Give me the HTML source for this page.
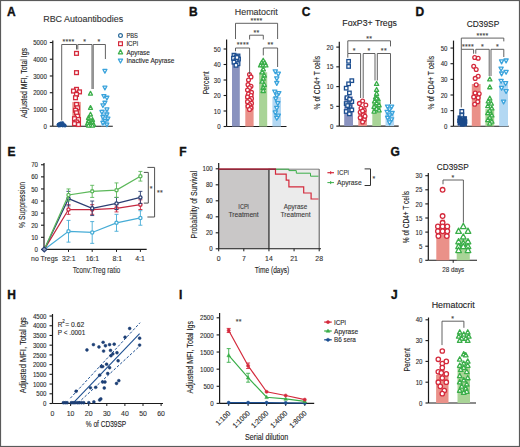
<!DOCTYPE html>
<html><head><meta charset="utf-8"><style>
html,body{margin:0;padding:0;background:#fff;width:520px;height:447px;overflow:hidden}
svg{display:block;font-family:"Liberation Sans",sans-serif}
</style></head><body>
<svg width="520" height="447" viewBox="0 0 520 447">
<rect x="0.5" y="0.5" width="519" height="446" fill="none" stroke="#5a5a5a" stroke-width="1.2"/>
<text x="7" y="15.8" font-size="12" text-anchor="start" font-weight="bold" fill="#111" stroke="#111" stroke-width="0.35">A</text>
<text x="189" y="15.5" font-size="12" text-anchor="start" font-weight="bold" fill="#111" stroke="#111" stroke-width="0.35">B</text>
<text x="301.7" y="15.6" font-size="12" text-anchor="start" font-weight="bold" fill="#111" stroke="#111" stroke-width="0.35">C</text>
<text x="415.5" y="15.5" font-size="12" text-anchor="start" font-weight="bold" fill="#111" stroke="#111" stroke-width="0.35">D</text>
<text x="7.5" y="155.6" font-size="12" text-anchor="start" font-weight="bold" fill="#111" stroke="#111" stroke-width="0.35">E</text>
<text x="179.2" y="155.6" font-size="12" text-anchor="start" font-weight="bold" fill="#111" stroke="#111" stroke-width="0.35">F</text>
<text x="390.5" y="156" font-size="12" text-anchor="start" font-weight="bold" fill="#111" stroke="#111" stroke-width="0.35">G</text>
<text x="7.3" y="299.2" font-size="12" text-anchor="start" font-weight="bold" fill="#111" stroke="#111" stroke-width="0.35">H</text>
<text x="179.0" y="298.8" font-size="12" text-anchor="start" font-weight="bold" fill="#111" stroke="#111" stroke-width="0.35">I</text>
<text x="391" y="298.9" font-size="12" text-anchor="start" font-weight="bold" fill="#111" stroke="#111" stroke-width="0.35">J</text>
<text x="83.2" y="22.1" font-size="8.9" text-anchor="middle" font-weight="normal" fill="#333" stroke="#333" stroke-width="0.12" textLength="80" lengthAdjust="spacingAndGlyphs">RBC Autoantibodies</text>
<line x1="52.80" y1="40.50" x2="52.80" y2="126.20" stroke="#1a1a1a" stroke-width="1.2"/>
<line x1="49.80" y1="126.20" x2="52.80" y2="126.20" stroke="#1a1a1a" stroke-width="1.1"/>
<text x="46.8" y="128.8" font-size="7.4" text-anchor="end" font-weight="normal" fill="#2a2a2a" stroke="#2a2a2a" stroke-width="0.12" textLength="3.4" lengthAdjust="spacingAndGlyphs">0</text>
<line x1="49.80" y1="109.46" x2="52.80" y2="109.46" stroke="#1a1a1a" stroke-width="1.1"/>
<text x="46.8" y="112.06" font-size="7.4" text-anchor="end" font-weight="normal" fill="#2a2a2a" stroke="#2a2a2a" stroke-width="0.12" textLength="13.6" lengthAdjust="spacingAndGlyphs">1000</text>
<line x1="49.80" y1="92.72" x2="52.80" y2="92.72" stroke="#1a1a1a" stroke-width="1.1"/>
<text x="46.8" y="95.32" font-size="7.4" text-anchor="end" font-weight="normal" fill="#2a2a2a" stroke="#2a2a2a" stroke-width="0.12" textLength="13.6" lengthAdjust="spacingAndGlyphs">2000</text>
<line x1="49.80" y1="75.98" x2="52.80" y2="75.98" stroke="#1a1a1a" stroke-width="1.1"/>
<text x="46.8" y="78.58000000000001" font-size="7.4" text-anchor="end" font-weight="normal" fill="#2a2a2a" stroke="#2a2a2a" stroke-width="0.12" textLength="13.6" lengthAdjust="spacingAndGlyphs">3000</text>
<line x1="49.80" y1="59.24" x2="52.80" y2="59.24" stroke="#1a1a1a" stroke-width="1.1"/>
<text x="46.8" y="61.84000000000001" font-size="7.4" text-anchor="end" font-weight="normal" fill="#2a2a2a" stroke="#2a2a2a" stroke-width="0.12" textLength="13.6" lengthAdjust="spacingAndGlyphs">4000</text>
<line x1="49.80" y1="42.50" x2="52.80" y2="42.50" stroke="#1a1a1a" stroke-width="1.1"/>
<text x="46.8" y="45.100000000000016" font-size="7.4" text-anchor="end" font-weight="normal" fill="#2a2a2a" stroke="#2a2a2a" stroke-width="0.12" textLength="13.6" lengthAdjust="spacingAndGlyphs">5000</text>
<text x="26.5" y="83" font-size="8.5" text-anchor="middle" font-weight="normal" fill="#222" stroke="#222" stroke-width="0.12" transform="rotate(-90 26.5 83)" textLength="70" lengthAdjust="spacingAndGlyphs">Adjusted MFI, Total Igs</text>
<line x1="52.80" y1="126.20" x2="112.80" y2="126.20" stroke="#1a1a1a" stroke-width="1.1"/>
<rect x="57.70" y="123.69" width="8.00" height="2.51" fill="#8a93bf"/>
<rect x="72.30" y="101.93" width="8.50" height="24.27" fill="#ea9189"/>
<rect x="86.50" y="119.84" width="7.50" height="6.36" fill="#a9d497"/>
<rect x="101.00" y="109.46" width="7.50" height="16.74" fill="#b3d8f3"/>
<circle cx="60.47" cy="125.41" r="1.4" stroke="#1d4f91" stroke-width="0.8" fill="#1d4f91"/>
<circle cx="62.76" cy="125.65" r="1.4" stroke="#1d4f91" stroke-width="0.8" fill="#1d4f91"/>
<circle cx="61.95" cy="124.76" r="1.4" stroke="#1d4f91" stroke-width="0.8" fill="#1d4f91"/>
<circle cx="58.61" cy="124.34" r="1.4" stroke="#1d4f91" stroke-width="0.8" fill="#1d4f91"/>
<circle cx="58.46" cy="124.56" r="1.4" stroke="#1d4f91" stroke-width="0.8" fill="#1d4f91"/>
<circle cx="58.69" cy="125.59" r="1.4" stroke="#1d4f91" stroke-width="0.8" fill="#1d4f91"/>
<circle cx="61.17" cy="123.37" r="1.4" stroke="#1d4f91" stroke-width="0.8" fill="#1d4f91"/>
<circle cx="59.07" cy="125.19" r="1.4" stroke="#1d4f91" stroke-width="0.8" fill="#1d4f91"/>
<circle cx="62.59" cy="123.01" r="1.4" stroke="#1d4f91" stroke-width="0.8" fill="#1d4f91"/>
<circle cx="62.24" cy="124.67" r="1.4" stroke="#1d4f91" stroke-width="0.8" fill="#1d4f91"/>
<circle cx="65.03" cy="125.72" r="1.4" stroke="#1d4f91" stroke-width="0.8" fill="#1d4f91"/>
<circle cx="64.21" cy="124.99" r="1.4" stroke="#1d4f91" stroke-width="0.8" fill="#1d4f91"/>
<circle cx="59.21" cy="125.51" r="1.4" stroke="#1d4f91" stroke-width="0.8" fill="#1d4f91"/>
<circle cx="60.36" cy="123.41" r="1.4" stroke="#1d4f91" stroke-width="0.8" fill="#1d4f91"/>
<circle cx="59.47" cy="124.11" r="1.4" stroke="#1d4f91" stroke-width="0.8" fill="#1d4f91"/>
<circle cx="62.67" cy="124.74" r="1.4" stroke="#1d4f91" stroke-width="0.8" fill="#1d4f91"/>
<rect x="74.60" y="51.48" width="3.8" height="3.8" stroke="#d42a3c" stroke-width="1.3" fill="#fff"/>
<rect x="74.60" y="70.73" width="3.8" height="3.8" stroke="#d42a3c" stroke-width="1.3" fill="#fff"/>
<rect x="74.60" y="87.47" width="3.8" height="3.8" stroke="#d42a3c" stroke-width="1.3" fill="#fff"/>
<rect x="71.60" y="89.15" width="3.8" height="3.8" stroke="#d42a3c" stroke-width="1.3" fill="#fff"/>
<rect x="77.60" y="89.98" width="3.8" height="3.8" stroke="#d42a3c" stroke-width="1.3" fill="#fff"/>
<rect x="74.60" y="92.49" width="3.8" height="3.8" stroke="#d42a3c" stroke-width="1.3" fill="#fff"/>
<rect x="73.60" y="95.84" width="3.8" height="3.8" stroke="#d42a3c" stroke-width="1.3" fill="#fff"/>
<rect x="74.60" y="102.54" width="3.8" height="3.8" stroke="#d42a3c" stroke-width="1.3" fill="#fff"/>
<rect x="75.60" y="105.89" width="3.8" height="3.8" stroke="#d42a3c" stroke-width="1.3" fill="#fff"/>
<rect x="73.60" y="108.40" width="3.8" height="3.8" stroke="#d42a3c" stroke-width="1.3" fill="#fff"/>
<rect x="74.60" y="110.91" width="3.8" height="3.8" stroke="#d42a3c" stroke-width="1.3" fill="#fff"/>
<rect x="75.60" y="114.26" width="3.8" height="3.8" stroke="#d42a3c" stroke-width="1.3" fill="#fff"/>
<rect x="72.60" y="116.77" width="3.8" height="3.8" stroke="#d42a3c" stroke-width="1.3" fill="#fff"/>
<rect x="76.60" y="117.60" width="3.8" height="3.8" stroke="#d42a3c" stroke-width="1.3" fill="#fff"/>
<rect x="74.60" y="120.11" width="3.8" height="3.8" stroke="#d42a3c" stroke-width="1.3" fill="#fff"/>
<rect x="72.60" y="121.79" width="3.8" height="3.8" stroke="#d42a3c" stroke-width="1.3" fill="#fff"/>
<rect x="76.60" y="122.63" width="3.8" height="3.8" stroke="#d42a3c" stroke-width="1.3" fill="#fff"/>
<polygon points="90.50,91.36 88.50,95.06 92.50,95.06" stroke="#3aae49" stroke-width="1.3" fill="#fff" stroke-linejoin="round"/>
<polygon points="90.50,105.59 88.50,109.29 92.50,109.29" stroke="#3aae49" stroke-width="1.3" fill="#fff" stroke-linejoin="round"/>
<polygon points="90.50,112.28 88.50,115.98 92.50,115.98" stroke="#3aae49" stroke-width="1.3" fill="#fff" stroke-linejoin="round"/>
<polygon points="88.50,115.63 86.50,119.33 90.50,119.33" stroke="#3aae49" stroke-width="1.3" fill="#fff" stroke-linejoin="round"/>
<polygon points="92.50,117.64 90.50,121.34 94.50,121.34" stroke="#3aae49" stroke-width="1.3" fill="#fff" stroke-linejoin="round"/>
<polygon points="88.50,118.98 86.50,122.68 90.50,122.68" stroke="#3aae49" stroke-width="1.3" fill="#fff" stroke-linejoin="round"/>
<polygon points="92.50,120.32 90.50,124.02 94.50,124.02" stroke="#3aae49" stroke-width="1.3" fill="#fff" stroke-linejoin="round"/>
<polygon points="87.50,121.32 85.50,125.02 89.50,125.02" stroke="#3aae49" stroke-width="1.3" fill="#fff" stroke-linejoin="round"/>
<polygon points="93.50,122.33 91.50,126.03 95.50,126.03" stroke="#3aae49" stroke-width="1.3" fill="#fff" stroke-linejoin="round"/>
<polygon points="90.50,123.00 88.50,126.70 92.50,126.70" stroke="#3aae49" stroke-width="1.3" fill="#fff" stroke-linejoin="round"/>
<polygon points="88.50,123.33 86.50,127.03 90.50,127.03" stroke="#3aae49" stroke-width="1.3" fill="#fff" stroke-linejoin="round"/>
<polygon points="92.50,123.50 90.50,127.20 94.50,127.20" stroke="#3aae49" stroke-width="1.3" fill="#fff" stroke-linejoin="round"/>
<polygon points="104.90,73.16 102.90,69.46 106.90,69.46" stroke="#3aa3dc" stroke-width="1.3" fill="#fff" stroke-linejoin="round"/>
<polygon points="104.90,89.90 102.90,86.20 106.90,86.20" stroke="#3aa3dc" stroke-width="1.3" fill="#fff" stroke-linejoin="round"/>
<polygon points="103.90,98.27 101.90,94.57 105.90,94.57" stroke="#3aa3dc" stroke-width="1.3" fill="#fff" stroke-linejoin="round"/>
<polygon points="106.90,99.94 104.90,96.24 108.90,96.24" stroke="#3aa3dc" stroke-width="1.3" fill="#fff" stroke-linejoin="round"/>
<polygon points="104.90,104.96 102.90,101.26 106.90,101.26" stroke="#3aa3dc" stroke-width="1.3" fill="#fff" stroke-linejoin="round"/>
<polygon points="102.90,107.48 100.90,103.78 104.90,103.78" stroke="#3aa3dc" stroke-width="1.3" fill="#fff" stroke-linejoin="round"/>
<polygon points="106.90,111.66 104.90,107.96 108.90,107.96" stroke="#3aa3dc" stroke-width="1.3" fill="#fff" stroke-linejoin="round"/>
<polygon points="101.90,114.17 99.90,110.47 103.90,110.47" stroke="#3aa3dc" stroke-width="1.3" fill="#fff" stroke-linejoin="round"/>
<polygon points="106.90,116.68 104.90,112.98 108.90,112.98" stroke="#3aa3dc" stroke-width="1.3" fill="#fff" stroke-linejoin="round"/>
<polygon points="102.90,119.19 100.90,115.49 104.90,115.49" stroke="#3aa3dc" stroke-width="1.3" fill="#fff" stroke-linejoin="round"/>
<polygon points="107.90,120.87 105.90,117.17 109.90,117.17" stroke="#3aa3dc" stroke-width="1.3" fill="#fff" stroke-linejoin="round"/>
<polygon points="104.90,123.38 102.90,119.68 106.90,119.68" stroke="#3aa3dc" stroke-width="1.3" fill="#fff" stroke-linejoin="round"/>
<polygon points="102.90,125.05 100.90,121.35 104.90,121.35" stroke="#3aa3dc" stroke-width="1.3" fill="#fff" stroke-linejoin="round"/>
<polygon points="106.90,126.73 104.90,123.03 108.90,123.03" stroke="#3aa3dc" stroke-width="1.3" fill="#fff" stroke-linejoin="round"/>
<polyline points="61.70,120.50 61.70,44.50 76.50,44.50 76.50,49.50" stroke="#505050" stroke-width="0.9" fill="none"/>
<polyline points="77.80,49.50 77.80,44.50 92.00,44.50 92.00,89.00" stroke="#505050" stroke-width="0.9" fill="none"/>
<polyline points="93.20,89.00 93.20,44.50 105.40,44.50 105.40,59.00" stroke="#505050" stroke-width="0.9" fill="none"/>
<text x="68.5" y="44.0" font-size="7" text-anchor="middle" font-weight="normal" fill="#444" stroke="#444" stroke-width="0.12" letter-spacing="0.3">****</text>
<text x="84.8" y="44.0" font-size="7" text-anchor="middle" font-weight="normal" fill="#444" stroke="#444" stroke-width="0.12" letter-spacing="0.3">*</text>
<text x="99" y="44.0" font-size="7" text-anchor="middle" font-weight="normal" fill="#444" stroke="#444" stroke-width="0.12" letter-spacing="0.3">*</text>
<circle cx="120.50" cy="35.60" r="1.9" stroke="#2a6a9a" stroke-width="1.2" fill="#fff"/>
<rect x="118.60" y="41.80" width="3.8" height="3.8" stroke="#d42a3c" stroke-width="1.2" fill="#fff"/>
<polygon points="120.50,49.89 118.40,53.78 122.60,53.78" stroke="#3aae49" stroke-width="1.2" fill="#fff" stroke-linejoin="round"/>
<polygon points="120.50,63.01 118.40,59.12 122.60,59.12" stroke="#3aa3dc" stroke-width="1.2" fill="#fff" stroke-linejoin="round"/>
<text x="126.4" y="38.0" font-size="7.0" text-anchor="start" font-weight="normal" fill="#2a2a2a" stroke="#2a2a2a" stroke-width="0.12" textLength="11.5" lengthAdjust="spacingAndGlyphs">PBS</text>
<text x="126.4" y="46.1" font-size="7.0" text-anchor="start" font-weight="normal" fill="#2a2a2a" stroke="#2a2a2a" stroke-width="0.12" textLength="11.7" lengthAdjust="spacingAndGlyphs">ICPi</text>
<text x="126.4" y="54.6" font-size="7.0" text-anchor="start" font-weight="normal" fill="#2a2a2a" stroke="#2a2a2a" stroke-width="0.12" textLength="23.5" lengthAdjust="spacingAndGlyphs">Apyrase</text>
<text x="126.4" y="63.1" font-size="7.0" text-anchor="start" font-weight="normal" fill="#2a2a2a" stroke="#2a2a2a" stroke-width="0.12" textLength="48" lengthAdjust="spacingAndGlyphs">Inactive Apyrase</text>
<text x="256.3" y="14.5" font-size="9" text-anchor="middle" font-weight="normal" fill="#333" stroke="#333" stroke-width="0.12" textLength="43" lengthAdjust="spacingAndGlyphs">Hematocrit</text>
<line x1="226.60" y1="39.50" x2="226.60" y2="126.50" stroke="#1a1a1a" stroke-width="1.2"/>
<line x1="223.60" y1="126.50" x2="226.60" y2="126.50" stroke="#1a1a1a" stroke-width="1.1"/>
<text x="220.6" y="129.1" font-size="7.4" text-anchor="end" font-weight="normal" fill="#2a2a2a" stroke="#2a2a2a" stroke-width="0.12" textLength="3.4" lengthAdjust="spacingAndGlyphs">0</text>
<line x1="223.60" y1="111.00" x2="226.60" y2="111.00" stroke="#1a1a1a" stroke-width="1.1"/>
<text x="220.6" y="113.6" font-size="7.4" text-anchor="end" font-weight="normal" fill="#2a2a2a" stroke="#2a2a2a" stroke-width="0.12" textLength="6.8" lengthAdjust="spacingAndGlyphs">10</text>
<line x1="223.60" y1="95.50" x2="226.60" y2="95.50" stroke="#1a1a1a" stroke-width="1.1"/>
<text x="220.6" y="98.1" font-size="7.4" text-anchor="end" font-weight="normal" fill="#2a2a2a" stroke="#2a2a2a" stroke-width="0.12" textLength="6.8" lengthAdjust="spacingAndGlyphs">20</text>
<line x1="223.60" y1="80.00" x2="226.60" y2="80.00" stroke="#1a1a1a" stroke-width="1.1"/>
<text x="220.6" y="82.6" font-size="7.4" text-anchor="end" font-weight="normal" fill="#2a2a2a" stroke="#2a2a2a" stroke-width="0.12" textLength="6.8" lengthAdjust="spacingAndGlyphs">30</text>
<line x1="223.60" y1="64.50" x2="226.60" y2="64.50" stroke="#1a1a1a" stroke-width="1.1"/>
<text x="220.6" y="67.1" font-size="7.4" text-anchor="end" font-weight="normal" fill="#2a2a2a" stroke="#2a2a2a" stroke-width="0.12" textLength="6.8" lengthAdjust="spacingAndGlyphs">40</text>
<line x1="223.60" y1="49.00" x2="226.60" y2="49.00" stroke="#1a1a1a" stroke-width="1.1"/>
<text x="220.6" y="51.6" font-size="7.4" text-anchor="end" font-weight="normal" fill="#2a2a2a" stroke="#2a2a2a" stroke-width="0.12" textLength="6.8" lengthAdjust="spacingAndGlyphs">50</text>
<text x="208.7" y="82.8" font-size="8.8" text-anchor="middle" font-weight="normal" fill="#222" stroke="#222" stroke-width="0.12" transform="rotate(-90 208.7 82.8)" textLength="23.1" lengthAdjust="spacingAndGlyphs">Percent</text>
<line x1="226.60" y1="126.50" x2="286.50" y2="126.50" stroke="#1a1a1a" stroke-width="1.1"/>
<rect x="232.00" y="59.85" width="7.80" height="66.65" fill="#8a93bf"/>
<rect x="245.30" y="93.95" width="8.30" height="32.55" fill="#ea9189"/>
<rect x="259.10" y="72.25" width="8.10" height="54.25" fill="#a9d497"/>
<rect x="272.40" y="97.05" width="8.60" height="29.45" fill="#b3d8f3"/>
<rect x="232.20" y="53.40" width="3.6" height="3.6" stroke="#1d4f91" stroke-width="1.3" fill="#fff"/>
<rect x="236.20" y="54.17" width="3.6" height="3.6" stroke="#1d4f91" stroke-width="1.3" fill="#fff"/>
<rect x="234.20" y="54.95" width="3.6" height="3.6" stroke="#1d4f91" stroke-width="1.3" fill="#fff"/>
<rect x="231.70" y="56.50" width="3.6" height="3.6" stroke="#1d4f91" stroke-width="1.3" fill="#fff"/>
<rect x="236.70" y="57.28" width="3.6" height="3.6" stroke="#1d4f91" stroke-width="1.3" fill="#fff"/>
<rect x="234.20" y="58.83" width="3.6" height="3.6" stroke="#1d4f91" stroke-width="1.3" fill="#fff"/>
<rect x="232.20" y="60.38" width="3.6" height="3.6" stroke="#1d4f91" stroke-width="1.3" fill="#fff"/>
<rect x="236.20" y="61.93" width="3.6" height="3.6" stroke="#1d4f91" stroke-width="1.3" fill="#fff"/>
<rect x="234.20" y="63.48" width="3.6" height="3.6" stroke="#1d4f91" stroke-width="1.3" fill="#fff"/>
<rect x="235.20" y="55.72" width="3.6" height="3.6" stroke="#1d4f91" stroke-width="1.3" fill="#fff"/>
<circle cx="249.50" cy="74.57" r="1.9" stroke="#d42a3c" stroke-width="1.3" fill="#fff"/>
<circle cx="251.00" cy="76.90" r="1.9" stroke="#d42a3c" stroke-width="1.3" fill="#fff"/>
<circle cx="248.50" cy="80.00" r="1.9" stroke="#d42a3c" stroke-width="1.3" fill="#fff"/>
<circle cx="248.00" cy="84.65" r="1.9" stroke="#d42a3c" stroke-width="1.3" fill="#fff"/>
<circle cx="251.00" cy="86.20" r="1.9" stroke="#d42a3c" stroke-width="1.3" fill="#fff"/>
<circle cx="249.50" cy="87.75" r="1.9" stroke="#d42a3c" stroke-width="1.3" fill="#fff"/>
<circle cx="247.50" cy="90.07" r="1.9" stroke="#d42a3c" stroke-width="1.3" fill="#fff"/>
<circle cx="251.50" cy="92.40" r="1.9" stroke="#d42a3c" stroke-width="1.3" fill="#fff"/>
<circle cx="248.50" cy="93.95" r="1.9" stroke="#d42a3c" stroke-width="1.3" fill="#fff"/>
<circle cx="251.00" cy="95.50" r="1.9" stroke="#d42a3c" stroke-width="1.3" fill="#fff"/>
<circle cx="247.50" cy="97.05" r="1.9" stroke="#d42a3c" stroke-width="1.3" fill="#fff"/>
<circle cx="251.50" cy="98.60" r="1.9" stroke="#d42a3c" stroke-width="1.3" fill="#fff"/>
<circle cx="249.50" cy="100.15" r="1.9" stroke="#d42a3c" stroke-width="1.3" fill="#fff"/>
<circle cx="247.50" cy="101.70" r="1.9" stroke="#d42a3c" stroke-width="1.3" fill="#fff"/>
<circle cx="251.50" cy="103.25" r="1.9" stroke="#d42a3c" stroke-width="1.3" fill="#fff"/>
<circle cx="249.50" cy="104.80" r="1.9" stroke="#d42a3c" stroke-width="1.3" fill="#fff"/>
<circle cx="248.00" cy="106.35" r="1.9" stroke="#d42a3c" stroke-width="1.3" fill="#fff"/>
<circle cx="251.00" cy="107.90" r="1.9" stroke="#d42a3c" stroke-width="1.3" fill="#fff"/>
<circle cx="249.50" cy="109.45" r="1.9" stroke="#d42a3c" stroke-width="1.3" fill="#fff"/>
<polygon points="263.20,58.20 261.00,62.27 265.40,62.27" stroke="#3aae49" stroke-width="1.3" fill="#fff" stroke-linejoin="round"/>
<polygon points="261.70,60.53 259.50,64.60 263.90,64.60" stroke="#3aae49" stroke-width="1.3" fill="#fff" stroke-linejoin="round"/>
<polygon points="264.70,60.53 262.50,64.60 266.90,64.60" stroke="#3aae49" stroke-width="1.3" fill="#fff" stroke-linejoin="round"/>
<polygon points="260.70,62.86 258.50,66.93 262.90,66.93" stroke="#3aae49" stroke-width="1.3" fill="#fff" stroke-linejoin="round"/>
<polygon points="263.20,62.86 261.00,66.93 265.40,66.93" stroke="#3aae49" stroke-width="1.3" fill="#fff" stroke-linejoin="round"/>
<polygon points="265.70,62.86 263.50,66.93 267.90,66.93" stroke="#3aae49" stroke-width="1.3" fill="#fff" stroke-linejoin="round"/>
<polygon points="263.20,66.73 261.00,70.80 265.40,70.80" stroke="#3aae49" stroke-width="1.3" fill="#fff" stroke-linejoin="round"/>
<polygon points="262.20,69.83 260.00,73.90 264.40,73.90" stroke="#3aae49" stroke-width="1.3" fill="#fff" stroke-linejoin="round"/>
<polygon points="264.20,72.93 262.00,77.00 266.40,77.00" stroke="#3aae49" stroke-width="1.3" fill="#fff" stroke-linejoin="round"/>
<polygon points="263.20,76.03 261.00,80.10 265.40,80.10" stroke="#3aae49" stroke-width="1.3" fill="#fff" stroke-linejoin="round"/>
<polygon points="262.20,79.13 260.00,83.20 264.40,83.20" stroke="#3aae49" stroke-width="1.3" fill="#fff" stroke-linejoin="round"/>
<polygon points="264.20,82.23 262.00,86.30 266.40,86.30" stroke="#3aae49" stroke-width="1.3" fill="#fff" stroke-linejoin="round"/>
<polygon points="263.20,85.33 261.00,89.40 265.40,89.40" stroke="#3aae49" stroke-width="1.3" fill="#fff" stroke-linejoin="round"/>
<polygon points="263.20,88.43 261.00,92.50 265.40,92.50" stroke="#3aae49" stroke-width="1.3" fill="#fff" stroke-linejoin="round"/>
<polygon points="275.30,73.78 273.20,69.90 277.40,69.90" stroke="#3aa3dc" stroke-width="1.3" fill="#fff" stroke-linejoin="round"/>
<polygon points="278.30,76.11 276.20,72.22 280.40,72.22" stroke="#3aa3dc" stroke-width="1.3" fill="#fff" stroke-linejoin="round"/>
<polygon points="276.80,80.76 274.70,76.87 278.90,76.87" stroke="#3aa3dc" stroke-width="1.3" fill="#fff" stroke-linejoin="round"/>
<polygon points="276.80,85.41 274.70,81.52 278.90,81.52" stroke="#3aa3dc" stroke-width="1.3" fill="#fff" stroke-linejoin="round"/>
<polygon points="274.80,93.94 272.70,90.05 276.90,90.05" stroke="#3aa3dc" stroke-width="1.3" fill="#fff" stroke-linejoin="round"/>
<polygon points="278.80,95.48 276.70,91.60 280.90,91.60" stroke="#3aa3dc" stroke-width="1.3" fill="#fff" stroke-linejoin="round"/>
<polygon points="276.80,97.81 274.70,93.92 278.90,93.92" stroke="#3aa3dc" stroke-width="1.3" fill="#fff" stroke-linejoin="round"/>
<polygon points="275.80,100.91 273.70,97.02 277.90,97.02" stroke="#3aa3dc" stroke-width="1.3" fill="#fff" stroke-linejoin="round"/>
<polygon points="277.80,105.56 275.70,101.67 279.90,101.67" stroke="#3aa3dc" stroke-width="1.3" fill="#fff" stroke-linejoin="round"/>
<polygon points="276.80,110.21 274.70,106.33 278.90,106.33" stroke="#3aa3dc" stroke-width="1.3" fill="#fff" stroke-linejoin="round"/>
<polygon points="275.30,114.86 273.20,110.97 277.40,110.97" stroke="#3aa3dc" stroke-width="1.3" fill="#fff" stroke-linejoin="round"/>
<polygon points="278.30,117.96 276.20,114.08 280.40,114.08" stroke="#3aa3dc" stroke-width="1.3" fill="#fff" stroke-linejoin="round"/>
<polygon points="276.80,120.28 274.70,116.40 278.90,116.40" stroke="#3aa3dc" stroke-width="1.3" fill="#fff" stroke-linejoin="round"/>
<polyline points="235.50,39.00 235.50,23.30 277.60,23.30 277.60,39.00" stroke="#505050" stroke-width="0.9" fill="none"/>
<polyline points="249.60,39.50 249.60,35.20 263.30,35.20 263.30,39.50" stroke="#505050" stroke-width="0.9" fill="none"/>
<polyline points="235.50,51.30 235.50,48.00 249.60,48.00 249.60,74.00" stroke="#505050" stroke-width="0.9" fill="none"/>
<polyline points="263.30,55.40 263.30,48.00 277.60,48.00 277.60,67.00" stroke="#505050" stroke-width="0.9" fill="none"/>
<text x="256.6" y="22.8" font-size="7" text-anchor="middle" font-weight="normal" fill="#444" stroke="#444" stroke-width="0.12" letter-spacing="0.3">****</text>
<text x="256.6" y="34.8" font-size="7" text-anchor="middle" font-weight="normal" fill="#444" stroke="#444" stroke-width="0.12" letter-spacing="0.3">**</text>
<text x="242.9" y="47.3" font-size="7" text-anchor="middle" font-weight="normal" fill="#444" stroke="#444" stroke-width="0.12" letter-spacing="0.3">****</text>
<text x="270.5" y="47.3" font-size="7" text-anchor="middle" font-weight="normal" fill="#444" stroke="#444" stroke-width="0.12" letter-spacing="0.3">**</text>
<text x="369.6" y="26.2" font-size="9.2" text-anchor="middle" font-weight="normal" fill="#222" stroke="#222" stroke-width="0.12" textLength="54.5" lengthAdjust="spacingAndGlyphs">FoxP3+ Tregs</text>
<line x1="339.30" y1="41.80" x2="339.30" y2="126.10" stroke="#1a1a1a" stroke-width="1.2"/>
<line x1="336.30" y1="126.10" x2="339.30" y2="126.10" stroke="#1a1a1a" stroke-width="1.1"/>
<text x="333.3" y="128.7" font-size="7.4" text-anchor="end" font-weight="normal" fill="#2a2a2a" stroke="#2a2a2a" stroke-width="0.12" textLength="3.4" lengthAdjust="spacingAndGlyphs">0</text>
<line x1="336.30" y1="106.35" x2="339.30" y2="106.35" stroke="#1a1a1a" stroke-width="1.1"/>
<text x="333.3" y="108.94999999999999" font-size="7.4" text-anchor="end" font-weight="normal" fill="#2a2a2a" stroke="#2a2a2a" stroke-width="0.12" textLength="3.4" lengthAdjust="spacingAndGlyphs">5</text>
<line x1="336.30" y1="86.60" x2="339.30" y2="86.60" stroke="#1a1a1a" stroke-width="1.1"/>
<text x="333.3" y="89.19999999999999" font-size="7.4" text-anchor="end" font-weight="normal" fill="#2a2a2a" stroke="#2a2a2a" stroke-width="0.12" textLength="6.8" lengthAdjust="spacingAndGlyphs">10</text>
<line x1="336.30" y1="66.85" x2="339.30" y2="66.85" stroke="#1a1a1a" stroke-width="1.1"/>
<text x="333.3" y="69.44999999999999" font-size="7.4" text-anchor="end" font-weight="normal" fill="#2a2a2a" stroke="#2a2a2a" stroke-width="0.12" textLength="6.8" lengthAdjust="spacingAndGlyphs">15</text>
<line x1="336.30" y1="47.10" x2="339.30" y2="47.10" stroke="#1a1a1a" stroke-width="1.1"/>
<text x="333.3" y="49.699999999999996" font-size="7.4" text-anchor="end" font-weight="normal" fill="#2a2a2a" stroke="#2a2a2a" stroke-width="0.12" textLength="6.8" lengthAdjust="spacingAndGlyphs">20</text>
<text x="320.3" y="82.7" font-size="8.5" text-anchor="middle" font-weight="normal" fill="#222" stroke="#222" stroke-width="0.12" transform="rotate(-90 320.3 82.7)" textLength="53.4" lengthAdjust="spacingAndGlyphs">% of CD4+ T cells</text>
<line x1="339.30" y1="126.10" x2="398.70" y2="126.10" stroke="#1a1a1a" stroke-width="1.1"/>
<rect x="344.20" y="96.47" width="8.80" height="29.62" fill="#8a93bf"/>
<rect x="358.30" y="110.30" width="8.60" height="15.80" fill="#ea9189"/>
<rect x="372.30" y="101.61" width="8.60" height="24.49" fill="#a9d497"/>
<rect x="385.50" y="113.06" width="8.60" height="13.03" fill="#b3d8f3"/>
<rect x="346.85" y="59.57" width="3.5" height="3.5" stroke="#1d4f91" stroke-width="1.3" fill="#fff"/>
<rect x="346.85" y="64.70" width="3.5" height="3.5" stroke="#1d4f91" stroke-width="1.3" fill="#fff"/>
<rect x="350.05" y="78.92" width="3.5" height="3.5" stroke="#1d4f91" stroke-width="1.3" fill="#fff"/>
<rect x="346.85" y="82.08" width="3.5" height="3.5" stroke="#1d4f91" stroke-width="1.3" fill="#fff"/>
<rect x="344.45" y="86.43" width="3.5" height="3.5" stroke="#1d4f91" stroke-width="1.3" fill="#fff"/>
<rect x="347.65" y="91.17" width="3.5" height="3.5" stroke="#1d4f91" stroke-width="1.3" fill="#fff"/>
<rect x="345.25" y="95.91" width="3.5" height="3.5" stroke="#1d4f91" stroke-width="1.3" fill="#fff"/>
<rect x="350.05" y="99.86" width="3.5" height="3.5" stroke="#1d4f91" stroke-width="1.3" fill="#fff"/>
<rect x="344.45" y="101.83" width="3.5" height="3.5" stroke="#1d4f91" stroke-width="1.3" fill="#fff"/>
<rect x="347.65" y="104.99" width="3.5" height="3.5" stroke="#1d4f91" stroke-width="1.3" fill="#fff"/>
<rect x="350.05" y="108.16" width="3.5" height="3.5" stroke="#1d4f91" stroke-width="1.3" fill="#fff"/>
<rect x="344.45" y="109.73" width="3.5" height="3.5" stroke="#1d4f91" stroke-width="1.3" fill="#fff"/>
<rect x="347.65" y="112.10" width="3.5" height="3.5" stroke="#1d4f91" stroke-width="1.3" fill="#fff"/>
<rect x="347.85" y="97.49" width="3.5" height="3.5" stroke="#1d4f91" stroke-width="1.3" fill="#fff"/>
<rect x="345.85" y="103.81" width="3.5" height="3.5" stroke="#1d4f91" stroke-width="1.3" fill="#fff"/>
<circle cx="362.60" cy="101.02" r="1.9" stroke="#d42a3c" stroke-width="1.3" fill="#fff"/>
<circle cx="359.40" cy="103.39" r="1.9" stroke="#d42a3c" stroke-width="1.3" fill="#fff"/>
<circle cx="365.80" cy="105.01" r="1.9" stroke="#d42a3c" stroke-width="1.3" fill="#fff"/>
<circle cx="361.00" cy="108.32" r="1.9" stroke="#d42a3c" stroke-width="1.3" fill="#fff"/>
<circle cx="364.20" cy="109.91" r="1.9" stroke="#d42a3c" stroke-width="1.3" fill="#fff"/>
<circle cx="360.20" cy="112.27" r="1.9" stroke="#d42a3c" stroke-width="1.3" fill="#fff"/>
<circle cx="363.40" cy="114.64" r="1.9" stroke="#d42a3c" stroke-width="1.3" fill="#fff"/>
<circle cx="360.20" cy="117.80" r="1.9" stroke="#d42a3c" stroke-width="1.3" fill="#fff"/>
<circle cx="364.20" cy="119.38" r="1.9" stroke="#d42a3c" stroke-width="1.3" fill="#fff"/>
<circle cx="362.60" cy="121.91" r="1.9" stroke="#d42a3c" stroke-width="1.3" fill="#fff"/>
<circle cx="362.60" cy="111.09" r="1.9" stroke="#d42a3c" stroke-width="1.3" fill="#fff"/>
<circle cx="365.00" cy="116.22" r="1.9" stroke="#d42a3c" stroke-width="1.3" fill="#fff"/>
<polygon points="376.60,81.52 374.50,85.41 378.70,85.41" stroke="#3aae49" stroke-width="1.3" fill="#fff" stroke-linejoin="round"/>
<polygon points="376.60,87.45 374.50,91.33 378.70,91.33" stroke="#3aae49" stroke-width="1.3" fill="#fff" stroke-linejoin="round"/>
<polygon points="376.60,91.40 374.50,95.28 378.70,95.28" stroke="#3aae49" stroke-width="1.3" fill="#fff" stroke-linejoin="round"/>
<polygon points="375.60,94.95 373.50,98.84 377.70,98.84" stroke="#3aae49" stroke-width="1.3" fill="#fff" stroke-linejoin="round"/>
<polygon points="378.10,96.93 376.00,100.81 380.20,100.81" stroke="#3aae49" stroke-width="1.3" fill="#fff" stroke-linejoin="round"/>
<polygon points="374.60,98.90 372.50,102.79 376.70,102.79" stroke="#3aae49" stroke-width="1.3" fill="#fff" stroke-linejoin="round"/>
<polygon points="376.60,100.88 374.50,104.77 378.70,104.77" stroke="#3aae49" stroke-width="1.3" fill="#fff" stroke-linejoin="round"/>
<polygon points="379.10,102.85 377.00,106.74 381.20,106.74" stroke="#3aae49" stroke-width="1.3" fill="#fff" stroke-linejoin="round"/>
<polygon points="374.10,104.43 372.00,108.32 376.20,108.32" stroke="#3aae49" stroke-width="1.3" fill="#fff" stroke-linejoin="round"/>
<polygon points="376.60,106.41 374.50,110.30 378.70,110.30" stroke="#3aae49" stroke-width="1.3" fill="#fff" stroke-linejoin="round"/>
<polygon points="379.10,107.99 377.00,111.88 381.20,111.88" stroke="#3aae49" stroke-width="1.3" fill="#fff" stroke-linejoin="round"/>
<polygon points="374.10,109.17 372.00,113.06 376.20,113.06" stroke="#3aae49" stroke-width="1.3" fill="#fff" stroke-linejoin="round"/>
<polygon points="376.60,96.14 374.50,100.02 378.70,100.02" stroke="#3aae49" stroke-width="1.3" fill="#fff" stroke-linejoin="round"/>
<polygon points="387.60,109.05 385.50,105.17 389.70,105.17" stroke="#3aa3dc" stroke-width="1.3" fill="#fff" stroke-linejoin="round"/>
<polygon points="391.60,109.05 389.50,105.17 393.70,105.17" stroke="#3aa3dc" stroke-width="1.3" fill="#fff" stroke-linejoin="round"/>
<polygon points="389.60,111.82 387.50,107.93 391.70,107.93" stroke="#3aa3dc" stroke-width="1.3" fill="#fff" stroke-linejoin="round"/>
<polygon points="387.10,114.19 385.00,110.30 389.20,110.30" stroke="#3aa3dc" stroke-width="1.3" fill="#fff" stroke-linejoin="round"/>
<polygon points="392.10,115.38 390.00,111.49 394.20,111.49" stroke="#3aa3dc" stroke-width="1.3" fill="#fff" stroke-linejoin="round"/>
<polygon points="389.60,117.74 387.50,113.86 391.70,113.86" stroke="#3aa3dc" stroke-width="1.3" fill="#fff" stroke-linejoin="round"/>
<polygon points="387.60,120.11 385.50,116.23 389.70,116.23" stroke="#3aa3dc" stroke-width="1.3" fill="#fff" stroke-linejoin="round"/>
<polygon points="391.60,121.69 389.50,117.81 393.70,117.81" stroke="#3aa3dc" stroke-width="1.3" fill="#fff" stroke-linejoin="round"/>
<polygon points="389.60,124.85 387.50,120.97 391.70,120.97" stroke="#3aa3dc" stroke-width="1.3" fill="#fff" stroke-linejoin="round"/>
<polyline points="347.80,53.40 347.80,40.80 390.50,40.80 390.50,46.40" stroke="#505050" stroke-width="0.9" fill="none"/>
<polyline points="347.80,57.70 347.80,53.50 360.60,53.50 360.60,98.00" stroke="#505050" stroke-width="0.9" fill="none"/>
<polyline points="363.20,98.00 363.20,53.50 375.00,53.50 375.00,80.50" stroke="#505050" stroke-width="0.9" fill="none"/>
<polyline points="377.30,80.50 377.30,53.50 390.50,53.50 390.50,104.00" stroke="#505050" stroke-width="0.9" fill="none"/>
<text x="369.2" y="40.5" font-size="7" text-anchor="middle" font-weight="normal" fill="#444" stroke="#444" stroke-width="0.12" letter-spacing="0.3">**</text>
<text x="354.2" y="53.2" font-size="7" text-anchor="middle" font-weight="normal" fill="#444" stroke="#444" stroke-width="0.12" letter-spacing="0.3">*</text>
<text x="369.1" y="53.2" font-size="7" text-anchor="middle" font-weight="normal" fill="#444" stroke="#444" stroke-width="0.12" letter-spacing="0.3">*</text>
<text x="383.9" y="53.2" font-size="7" text-anchor="middle" font-weight="normal" fill="#444" stroke="#444" stroke-width="0.12" letter-spacing="0.3">**</text>
<text x="483" y="27.1" font-size="9.8" text-anchor="middle" font-weight="normal" fill="#222" stroke="#222" stroke-width="0.12" textLength="32.5" lengthAdjust="spacingAndGlyphs">CD39SP</text>
<line x1="453.50" y1="40.60" x2="453.50" y2="126.30" stroke="#1a1a1a" stroke-width="1.2"/>
<line x1="450.50" y1="126.30" x2="453.50" y2="126.30" stroke="#1a1a1a" stroke-width="1.1"/>
<text x="447.5" y="128.9" font-size="7.4" text-anchor="end" font-weight="normal" fill="#2a2a2a" stroke="#2a2a2a" stroke-width="0.12" textLength="3.4" lengthAdjust="spacingAndGlyphs">0</text>
<line x1="450.50" y1="110.65" x2="453.50" y2="110.65" stroke="#1a1a1a" stroke-width="1.1"/>
<text x="447.5" y="113.25" font-size="7.4" text-anchor="end" font-weight="normal" fill="#2a2a2a" stroke="#2a2a2a" stroke-width="0.12" textLength="6.8" lengthAdjust="spacingAndGlyphs">10</text>
<line x1="450.50" y1="95.00" x2="453.50" y2="95.00" stroke="#1a1a1a" stroke-width="1.1"/>
<text x="447.5" y="97.6" font-size="7.4" text-anchor="end" font-weight="normal" fill="#2a2a2a" stroke="#2a2a2a" stroke-width="0.12" textLength="6.8" lengthAdjust="spacingAndGlyphs">20</text>
<line x1="450.50" y1="79.35" x2="453.50" y2="79.35" stroke="#1a1a1a" stroke-width="1.1"/>
<text x="447.5" y="81.94999999999999" font-size="7.4" text-anchor="end" font-weight="normal" fill="#2a2a2a" stroke="#2a2a2a" stroke-width="0.12" textLength="6.8" lengthAdjust="spacingAndGlyphs">30</text>
<line x1="450.50" y1="63.70" x2="453.50" y2="63.70" stroke="#1a1a1a" stroke-width="1.1"/>
<text x="447.5" y="66.3" font-size="7.4" text-anchor="end" font-weight="normal" fill="#2a2a2a" stroke="#2a2a2a" stroke-width="0.12" textLength="6.8" lengthAdjust="spacingAndGlyphs">40</text>
<line x1="450.50" y1="48.05" x2="453.50" y2="48.05" stroke="#1a1a1a" stroke-width="1.1"/>
<text x="447.5" y="50.65" font-size="7.4" text-anchor="end" font-weight="normal" fill="#2a2a2a" stroke="#2a2a2a" stroke-width="0.12" textLength="6.8" lengthAdjust="spacingAndGlyphs">50</text>
<text x="434.0" y="82.7" font-size="8.5" text-anchor="middle" font-weight="normal" fill="#222" stroke="#222" stroke-width="0.12" transform="rotate(-90 434.0 82.7)" textLength="53.4" lengthAdjust="spacingAndGlyphs">% of CD4+ T cells</text>
<line x1="453.50" y1="126.30" x2="508.70" y2="126.30" stroke="#1a1a1a" stroke-width="1.1"/>
<rect x="458.00" y="120.04" width="8.80" height="6.26" fill="#8a93bf"/>
<rect x="471.80" y="84.05" width="8.80" height="42.25" fill="#ea9189"/>
<rect x="485.40" y="109.08" width="8.80" height="17.22" fill="#a9d497"/>
<rect x="499.20" y="82.48" width="8.80" height="43.82" fill="#b3d8f3"/>
<rect x="458.00" y="115.89" width="3.6" height="3.6" stroke="#1b4a8a" stroke-width="0.9" fill="#1b4a8a"/>
<rect x="463.00" y="116.67" width="3.6" height="3.6" stroke="#1b4a8a" stroke-width="0.9" fill="#1b4a8a"/>
<rect x="460.50" y="117.93" width="3.6" height="3.6" stroke="#1b4a8a" stroke-width="0.9" fill="#1b4a8a"/>
<rect x="457.70" y="119.02" width="3.6" height="3.6" stroke="#1b4a8a" stroke-width="0.9" fill="#1b4a8a"/>
<rect x="463.30" y="119.80" width="3.6" height="3.6" stroke="#1b4a8a" stroke-width="0.9" fill="#1b4a8a"/>
<rect x="460.50" y="120.59" width="3.6" height="3.6" stroke="#1b4a8a" stroke-width="0.9" fill="#1b4a8a"/>
<rect x="458.00" y="121.37" width="3.6" height="3.6" stroke="#1b4a8a" stroke-width="0.9" fill="#1b4a8a"/>
<rect x="463.00" y="122.15" width="3.6" height="3.6" stroke="#1b4a8a" stroke-width="0.9" fill="#1b4a8a"/>
<rect x="460.50" y="122.62" width="3.6" height="3.6" stroke="#1b4a8a" stroke-width="0.9" fill="#1b4a8a"/>
<rect x="460.00" y="109.63" width="3.6" height="3.6" stroke="#1b4a8a" stroke-width="1.3" fill="#fff"/>
<rect x="460.00" y="113.23" width="3.6" height="3.6" stroke="#1b4a8a" stroke-width="1.3" fill="#cfe0f0"/>
<circle cx="474.70" cy="57.44" r="1.9" stroke="#d42a3c" stroke-width="1.3" fill="#fff"/>
<circle cx="478.20" cy="58.22" r="1.9" stroke="#d42a3c" stroke-width="1.3" fill="#fff"/>
<circle cx="473.70" cy="66.36" r="1.9" stroke="#d42a3c" stroke-width="1.3" fill="#fff"/>
<circle cx="476.20" cy="69.49" r="1.9" stroke="#d42a3c" stroke-width="1.3" fill="#fff"/>
<circle cx="478.20" cy="76.22" r="1.9" stroke="#d42a3c" stroke-width="1.3" fill="#fff"/>
<circle cx="475.20" cy="78.41" r="1.9" stroke="#d42a3c" stroke-width="1.3" fill="#fff"/>
<circle cx="476.20" cy="84.83" r="1.9" stroke="#d42a3c" stroke-width="1.3" fill="#fff"/>
<circle cx="475.20" cy="92.97" r="1.9" stroke="#d42a3c" stroke-width="1.3" fill="#fff"/>
<circle cx="479.20" cy="93.75" r="1.9" stroke="#d42a3c" stroke-width="1.3" fill="#fff"/>
<circle cx="473.70" cy="97.03" r="1.9" stroke="#d42a3c" stroke-width="1.3" fill="#fff"/>
<circle cx="478.20" cy="97.66" r="1.9" stroke="#d42a3c" stroke-width="1.3" fill="#fff"/>
<circle cx="477.70" cy="101.73" r="1.9" stroke="#d42a3c" stroke-width="1.3" fill="#fff"/>
<circle cx="474.70" cy="104.23" r="1.9" stroke="#d42a3c" stroke-width="1.3" fill="#fff"/>
<polygon points="489.80,77.04 487.70,80.92 491.90,80.92" stroke="#3aae49" stroke-width="1.3" fill="#fff" stroke-linejoin="round"/>
<polygon points="489.80,84.86 487.70,88.75 491.90,88.75" stroke="#3aae49" stroke-width="1.3" fill="#fff" stroke-linejoin="round"/>
<polygon points="489.80,96.13 487.70,100.02 491.90,100.02" stroke="#3aae49" stroke-width="1.3" fill="#fff" stroke-linejoin="round"/>
<polygon points="488.30,98.95 486.20,102.83 490.40,102.83" stroke="#3aae49" stroke-width="1.3" fill="#fff" stroke-linejoin="round"/>
<polygon points="491.30,101.30 489.20,105.18 493.40,105.18" stroke="#3aae49" stroke-width="1.3" fill="#fff" stroke-linejoin="round"/>
<polygon points="487.80,103.64 485.70,107.53 489.90,107.53" stroke="#3aae49" stroke-width="1.3" fill="#fff" stroke-linejoin="round"/>
<polygon points="491.80,105.99 489.70,109.88 493.90,109.88" stroke="#3aae49" stroke-width="1.3" fill="#fff" stroke-linejoin="round"/>
<polygon points="489.80,108.34 487.70,112.23 491.90,112.23" stroke="#3aae49" stroke-width="1.3" fill="#fff" stroke-linejoin="round"/>
<polygon points="487.80,110.69 485.70,114.57 489.90,114.57" stroke="#3aae49" stroke-width="1.3" fill="#fff" stroke-linejoin="round"/>
<polygon points="491.80,113.03 489.70,116.92 493.90,116.92" stroke="#3aae49" stroke-width="1.3" fill="#fff" stroke-linejoin="round"/>
<polygon points="489.80,115.38 487.70,119.27 491.90,119.27" stroke="#3aae49" stroke-width="1.3" fill="#fff" stroke-linejoin="round"/>
<polygon points="487.80,117.73 485.70,121.61 489.90,121.61" stroke="#3aae49" stroke-width="1.3" fill="#fff" stroke-linejoin="round"/>
<polygon points="491.80,119.29 489.70,123.18 493.90,123.18" stroke="#3aae49" stroke-width="1.3" fill="#fff" stroke-linejoin="round"/>
<polygon points="489.80,121.17 487.70,125.06 491.90,125.06" stroke="#3aae49" stroke-width="1.3" fill="#fff" stroke-linejoin="round"/>
<polygon points="506.10,62.88 504.00,58.99 508.20,58.99" stroke="#3aa3dc" stroke-width="1.3" fill="#fff" stroke-linejoin="round"/>
<polygon points="501.60,63.82 499.50,59.93 503.70,59.93" stroke="#3aa3dc" stroke-width="1.3" fill="#fff" stroke-linejoin="round"/>
<polygon points="501.10,71.02 499.00,67.13 503.20,67.13" stroke="#3aa3dc" stroke-width="1.3" fill="#fff" stroke-linejoin="round"/>
<polygon points="506.10,74.30 504.00,70.42 508.20,70.42" stroke="#3aa3dc" stroke-width="1.3" fill="#fff" stroke-linejoin="round"/>
<polygon points="501.60,75.87 499.50,71.98 503.70,71.98" stroke="#3aa3dc" stroke-width="1.3" fill="#fff" stroke-linejoin="round"/>
<polygon points="501.10,83.22 499.00,79.34 503.20,79.34" stroke="#3aa3dc" stroke-width="1.3" fill="#fff" stroke-linejoin="round"/>
<polygon points="505.60,85.57 503.50,81.69 507.70,81.69" stroke="#3aa3dc" stroke-width="1.3" fill="#fff" stroke-linejoin="round"/>
<polygon points="501.60,90.27 499.50,86.38 503.70,86.38" stroke="#3aa3dc" stroke-width="1.3" fill="#fff" stroke-linejoin="round"/>
<polygon points="506.10,93.55 504.00,89.67 508.20,89.67" stroke="#3aa3dc" stroke-width="1.3" fill="#fff" stroke-linejoin="round"/>
<polygon points="503.60,104.04 501.50,100.15 505.70,100.15" stroke="#3aa3dc" stroke-width="1.3" fill="#fff" stroke-linejoin="round"/>
<polyline points="461.30,49.30 461.30,38.10 503.80,38.10 503.80,41.40" stroke="#505050" stroke-width="0.9" fill="none"/>
<polyline points="461.30,107.40 461.30,49.30 473.60,49.30 473.60,53.70" stroke="#505050" stroke-width="0.9" fill="none"/>
<polyline points="475.80,53.70 475.80,49.30 489.20,49.30 489.20,76.00" stroke="#505050" stroke-width="0.9" fill="none"/>
<polyline points="491.00,76.00 491.00,49.30 503.80,49.30 503.80,57.00" stroke="#505050" stroke-width="0.9" fill="none"/>
<text x="482.5" y="37.6" font-size="7" text-anchor="middle" font-weight="normal" fill="#444" stroke="#444" stroke-width="0.12" letter-spacing="0.3">****</text>
<text x="468" y="49.0" font-size="7" text-anchor="middle" font-weight="normal" fill="#444" stroke="#444" stroke-width="0.12" letter-spacing="0.3">****</text>
<text x="482.5" y="49.0" font-size="7" text-anchor="middle" font-weight="normal" fill="#444" stroke="#444" stroke-width="0.12" letter-spacing="0.3">*</text>
<text x="497.4" y="49.0" font-size="7" text-anchor="middle" font-weight="normal" fill="#444" stroke="#444" stroke-width="0.12" letter-spacing="0.3">*</text>
<line x1="44.00" y1="163.00" x2="44.00" y2="249.40" stroke="#1a1a1a" stroke-width="1.2"/>
<line x1="41.00" y1="249.40" x2="44.00" y2="249.40" stroke="#1a1a1a" stroke-width="1.1"/>
<text x="38.0" y="252.0" font-size="7.4" text-anchor="end" font-weight="normal" fill="#2a2a2a" stroke="#2a2a2a" stroke-width="0.12" textLength="3.4" lengthAdjust="spacingAndGlyphs">0</text>
<line x1="41.00" y1="237.31" x2="44.00" y2="237.31" stroke="#1a1a1a" stroke-width="1.1"/>
<text x="38.0" y="239.91" font-size="7.4" text-anchor="end" font-weight="normal" fill="#2a2a2a" stroke="#2a2a2a" stroke-width="0.12" textLength="6.8" lengthAdjust="spacingAndGlyphs">10</text>
<line x1="41.00" y1="225.22" x2="44.00" y2="225.22" stroke="#1a1a1a" stroke-width="1.1"/>
<text x="38.0" y="227.82" font-size="7.4" text-anchor="end" font-weight="normal" fill="#2a2a2a" stroke="#2a2a2a" stroke-width="0.12" textLength="6.8" lengthAdjust="spacingAndGlyphs">20</text>
<line x1="41.00" y1="213.13" x2="44.00" y2="213.13" stroke="#1a1a1a" stroke-width="1.1"/>
<text x="38.0" y="215.73" font-size="7.4" text-anchor="end" font-weight="normal" fill="#2a2a2a" stroke="#2a2a2a" stroke-width="0.12" textLength="6.8" lengthAdjust="spacingAndGlyphs">30</text>
<line x1="41.00" y1="201.04" x2="44.00" y2="201.04" stroke="#1a1a1a" stroke-width="1.1"/>
<text x="38.0" y="203.64000000000001" font-size="7.4" text-anchor="end" font-weight="normal" fill="#2a2a2a" stroke="#2a2a2a" stroke-width="0.12" textLength="6.8" lengthAdjust="spacingAndGlyphs">40</text>
<line x1="41.00" y1="188.95" x2="44.00" y2="188.95" stroke="#1a1a1a" stroke-width="1.1"/>
<text x="38.0" y="191.54999999999998" font-size="7.4" text-anchor="end" font-weight="normal" fill="#2a2a2a" stroke="#2a2a2a" stroke-width="0.12" textLength="6.8" lengthAdjust="spacingAndGlyphs">50</text>
<line x1="41.00" y1="176.86" x2="44.00" y2="176.86" stroke="#1a1a1a" stroke-width="1.1"/>
<text x="38.0" y="179.46" font-size="7.4" text-anchor="end" font-weight="normal" fill="#2a2a2a" stroke="#2a2a2a" stroke-width="0.12" textLength="6.8" lengthAdjust="spacingAndGlyphs">60</text>
<line x1="41.00" y1="164.77" x2="44.00" y2="164.77" stroke="#1a1a1a" stroke-width="1.1"/>
<text x="38.0" y="167.36999999999998" font-size="7.4" text-anchor="end" font-weight="normal" fill="#2a2a2a" stroke="#2a2a2a" stroke-width="0.12" textLength="6.8" lengthAdjust="spacingAndGlyphs">70</text>
<text x="25.0" y="205.0" font-size="9.0" text-anchor="middle" font-weight="normal" fill="#222" stroke="#222" stroke-width="0.12" transform="rotate(-90 25.0 205.0)" textLength="46" lengthAdjust="spacingAndGlyphs">% Suppression</text>
<line x1="44.00" y1="249.40" x2="146.70" y2="249.40" stroke="#1a1a1a" stroke-width="1.1"/>
<line x1="68.50" y1="249.40" x2="68.50" y2="251.90" stroke="#1a1a1a" stroke-width="1"/>
<line x1="92.20" y1="249.40" x2="92.20" y2="251.90" stroke="#1a1a1a" stroke-width="1"/>
<line x1="116.50" y1="249.40" x2="116.50" y2="251.90" stroke="#1a1a1a" stroke-width="1"/>
<line x1="140.40" y1="249.40" x2="140.40" y2="251.90" stroke="#1a1a1a" stroke-width="1"/>
<text x="44.5" y="260.8" font-size="6.9" text-anchor="middle" font-weight="normal" fill="#333" stroke="#333" stroke-width="0.12">no Tregs</text>
<text x="68.8" y="260.8" font-size="6.9" text-anchor="middle" font-weight="normal" fill="#333" stroke="#333" stroke-width="0.12">32:1</text>
<text x="92.4" y="260.8" font-size="6.9" text-anchor="middle" font-weight="normal" fill="#333" stroke="#333" stroke-width="0.12">16:1</text>
<text x="117.2" y="260.8" font-size="6.9" text-anchor="middle" font-weight="normal" fill="#333" stroke="#333" stroke-width="0.12">8:1</text>
<text x="140" y="260.8" font-size="6.9" text-anchor="middle" font-weight="normal" fill="#333" stroke="#333" stroke-width="0.12">4:1</text>
<text x="96.5" y="273.2" font-size="8.5" text-anchor="middle" font-weight="normal" fill="#333" stroke="#333" stroke-width="0.12" textLength="47.7" lengthAdjust="spacingAndGlyphs">Tconv:Treg ratio</text>
<polyline points="44.30,249.40 68.50,231.27 92.20,232.47 116.50,222.80 140.40,217.97" stroke="#46acd6" stroke-width="1.25" fill="none"/>
<line x1="68.50" y1="242.15" x2="68.50" y2="220.38" stroke="#46acd6" stroke-width="0.9"/>
<line x1="66.50" y1="242.15" x2="70.50" y2="242.15" stroke="#46acd6" stroke-width="0.9"/>
<line x1="66.50" y1="220.38" x2="70.50" y2="220.38" stroke="#46acd6" stroke-width="0.9"/>
<line x1="92.20" y1="243.36" x2="92.20" y2="221.59" stroke="#46acd6" stroke-width="0.9"/>
<line x1="90.20" y1="243.36" x2="94.20" y2="243.36" stroke="#46acd6" stroke-width="0.9"/>
<line x1="90.20" y1="221.59" x2="94.20" y2="221.59" stroke="#46acd6" stroke-width="0.9"/>
<line x1="116.50" y1="231.27" x2="116.50" y2="214.34" stroke="#46acd6" stroke-width="0.9"/>
<line x1="114.50" y1="231.27" x2="118.50" y2="231.27" stroke="#46acd6" stroke-width="0.9"/>
<line x1="114.50" y1="214.34" x2="118.50" y2="214.34" stroke="#46acd6" stroke-width="0.9"/>
<line x1="140.40" y1="225.22" x2="140.40" y2="210.71" stroke="#46acd6" stroke-width="0.9"/>
<line x1="138.40" y1="225.22" x2="142.40" y2="225.22" stroke="#46acd6" stroke-width="0.9"/>
<line x1="138.40" y1="210.71" x2="142.40" y2="210.71" stroke="#46acd6" stroke-width="0.9"/>
<circle cx="68.50" cy="231.27" r="1.6" stroke="#46acd6" stroke-width="1.3" fill="#fff"/>
<circle cx="92.20" cy="232.47" r="1.6" stroke="#46acd6" stroke-width="1.3" fill="#fff"/>
<circle cx="116.50" cy="222.80" r="1.6" stroke="#46acd6" stroke-width="1.3" fill="#fff"/>
<circle cx="140.40" cy="217.97" r="1.6" stroke="#46acd6" stroke-width="1.3" fill="#fff"/>
<polyline points="44.30,249.40 68.50,209.50 92.20,209.50 116.50,208.29 140.40,204.67" stroke="#c42840" stroke-width="1.25" fill="none"/>
<line x1="68.50" y1="214.34" x2="68.50" y2="204.67" stroke="#c42840" stroke-width="0.9"/>
<line x1="66.50" y1="214.34" x2="70.50" y2="214.34" stroke="#c42840" stroke-width="0.9"/>
<line x1="66.50" y1="204.67" x2="70.50" y2="204.67" stroke="#c42840" stroke-width="0.9"/>
<line x1="92.20" y1="214.34" x2="92.20" y2="204.67" stroke="#c42840" stroke-width="0.9"/>
<line x1="90.20" y1="214.34" x2="94.20" y2="214.34" stroke="#c42840" stroke-width="0.9"/>
<line x1="90.20" y1="204.67" x2="94.20" y2="204.67" stroke="#c42840" stroke-width="0.9"/>
<line x1="116.50" y1="211.92" x2="116.50" y2="204.67" stroke="#c42840" stroke-width="0.9"/>
<line x1="114.50" y1="211.92" x2="118.50" y2="211.92" stroke="#c42840" stroke-width="0.9"/>
<line x1="114.50" y1="204.67" x2="118.50" y2="204.67" stroke="#c42840" stroke-width="0.9"/>
<line x1="140.40" y1="209.50" x2="140.40" y2="199.83" stroke="#c42840" stroke-width="0.9"/>
<line x1="138.40" y1="209.50" x2="142.40" y2="209.50" stroke="#c42840" stroke-width="0.9"/>
<line x1="138.40" y1="199.83" x2="142.40" y2="199.83" stroke="#c42840" stroke-width="0.9"/>
<circle cx="68.50" cy="209.50" r="1.6" stroke="#c42840" stroke-width="1.3" fill="#fff"/>
<circle cx="92.20" cy="209.50" r="1.6" stroke="#c42840" stroke-width="1.3" fill="#fff"/>
<circle cx="116.50" cy="208.29" r="1.6" stroke="#c42840" stroke-width="1.3" fill="#fff"/>
<circle cx="140.40" cy="204.67" r="1.6" stroke="#c42840" stroke-width="1.3" fill="#fff"/>
<polyline points="44.30,249.40 68.50,198.62 92.20,208.29 116.50,203.46 140.40,197.41" stroke="#2b3f73" stroke-width="1.25" fill="none"/>
<line x1="68.50" y1="205.88" x2="68.50" y2="191.37" stroke="#2b3f73" stroke-width="0.9"/>
<line x1="66.50" y1="205.88" x2="70.50" y2="205.88" stroke="#2b3f73" stroke-width="0.9"/>
<line x1="66.50" y1="191.37" x2="70.50" y2="191.37" stroke="#2b3f73" stroke-width="0.9"/>
<line x1="92.20" y1="215.55" x2="92.20" y2="201.04" stroke="#2b3f73" stroke-width="0.9"/>
<line x1="90.20" y1="215.55" x2="94.20" y2="215.55" stroke="#2b3f73" stroke-width="0.9"/>
<line x1="90.20" y1="201.04" x2="94.20" y2="201.04" stroke="#2b3f73" stroke-width="0.9"/>
<line x1="116.50" y1="209.50" x2="116.50" y2="197.41" stroke="#2b3f73" stroke-width="0.9"/>
<line x1="114.50" y1="209.50" x2="118.50" y2="209.50" stroke="#2b3f73" stroke-width="0.9"/>
<line x1="114.50" y1="197.41" x2="118.50" y2="197.41" stroke="#2b3f73" stroke-width="0.9"/>
<line x1="140.40" y1="203.46" x2="140.40" y2="191.37" stroke="#2b3f73" stroke-width="0.9"/>
<line x1="138.40" y1="203.46" x2="142.40" y2="203.46" stroke="#2b3f73" stroke-width="0.9"/>
<line x1="138.40" y1="191.37" x2="142.40" y2="191.37" stroke="#2b3f73" stroke-width="0.9"/>
<circle cx="68.50" cy="198.62" r="1.6" stroke="#2b3f73" stroke-width="1.3" fill="#fff"/>
<circle cx="92.20" cy="208.29" r="1.6" stroke="#2b3f73" stroke-width="1.3" fill="#fff"/>
<circle cx="116.50" cy="203.46" r="1.6" stroke="#2b3f73" stroke-width="1.3" fill="#fff"/>
<circle cx="140.40" cy="197.41" r="1.6" stroke="#2b3f73" stroke-width="1.3" fill="#fff"/>
<polyline points="44.30,249.40 68.50,195.00 92.20,191.37 116.50,190.16 140.40,176.26" stroke="#5cb85a" stroke-width="1.25" fill="none"/>
<line x1="68.50" y1="201.04" x2="68.50" y2="188.95" stroke="#5cb85a" stroke-width="0.9"/>
<line x1="66.50" y1="201.04" x2="70.50" y2="201.04" stroke="#5cb85a" stroke-width="0.9"/>
<line x1="66.50" y1="188.95" x2="70.50" y2="188.95" stroke="#5cb85a" stroke-width="0.9"/>
<line x1="92.20" y1="197.41" x2="92.20" y2="185.32" stroke="#5cb85a" stroke-width="0.9"/>
<line x1="90.20" y1="197.41" x2="94.20" y2="197.41" stroke="#5cb85a" stroke-width="0.9"/>
<line x1="90.20" y1="185.32" x2="94.20" y2="185.32" stroke="#5cb85a" stroke-width="0.9"/>
<line x1="116.50" y1="197.41" x2="116.50" y2="182.91" stroke="#5cb85a" stroke-width="0.9"/>
<line x1="114.50" y1="197.41" x2="118.50" y2="197.41" stroke="#5cb85a" stroke-width="0.9"/>
<line x1="114.50" y1="182.91" x2="118.50" y2="182.91" stroke="#5cb85a" stroke-width="0.9"/>
<line x1="140.40" y1="181.09" x2="140.40" y2="171.42" stroke="#5cb85a" stroke-width="0.9"/>
<line x1="138.40" y1="181.09" x2="142.40" y2="181.09" stroke="#5cb85a" stroke-width="0.9"/>
<line x1="138.40" y1="171.42" x2="142.40" y2="171.42" stroke="#5cb85a" stroke-width="0.9"/>
<circle cx="68.50" cy="195.00" r="1.6" stroke="#5cb85a" stroke-width="1.3" fill="#fff"/>
<circle cx="92.20" cy="191.37" r="1.6" stroke="#5cb85a" stroke-width="1.3" fill="#fff"/>
<circle cx="116.50" cy="190.16" r="1.6" stroke="#5cb85a" stroke-width="1.3" fill="#fff"/>
<circle cx="140.40" cy="176.26" r="1.6" stroke="#5cb85a" stroke-width="1.3" fill="#fff"/>
<polygon points="44.3,246.8 46.9,249.4 44.3,252.0 41.7,249.4" fill="#8a9ab8" stroke="#2b3f73" stroke-width="1.1"/>
<polyline points="143.80,172.40 148.30,172.40 148.30,203.10 143.80,203.10" stroke="#505050" stroke-width="1" fill="none"/>
<polyline points="147.40,167.40 154.60,167.40 154.60,217.00 147.40,217.00" stroke="#505050" stroke-width="1" fill="none"/>
<text x="151.3" y="190.5" font-size="7" text-anchor="middle" font-weight="normal" fill="#444" stroke="#444" stroke-width="0.12" letter-spacing="0.3">*</text>
<text x="160" y="195.3" font-size="7" text-anchor="middle" font-weight="normal" fill="#444" stroke="#444" stroke-width="0.12" letter-spacing="0.3">**</text>
<rect x="218.70" y="168.80" width="50.25" height="80.00" fill="#c9c7c7"/>
<rect x="268.95" y="168.80" width="50.25" height="80.00" fill="#ebebeb"/>
<line x1="268.95" y1="168.80" x2="268.95" y2="248.80" stroke="#333" stroke-width="1.3"/>
<line x1="319.20" y1="169.20" x2="319.20" y2="248.80" stroke="#555" stroke-width="1.0"/>
<line x1="269.00" y1="169.20" x2="319.20" y2="169.20" stroke="#666" stroke-width="0.8"/>
<line x1="218.70" y1="163.00" x2="218.70" y2="248.80" stroke="#1a1a1a" stroke-width="1.2"/>
<line x1="215.70" y1="248.80" x2="218.70" y2="248.80" stroke="#1a1a1a" stroke-width="1.1"/>
<text x="212.7" y="251.4" font-size="7.4" text-anchor="end" font-weight="normal" fill="#2a2a2a" stroke="#2a2a2a" stroke-width="0.12" textLength="3.4" lengthAdjust="spacingAndGlyphs">0</text>
<line x1="215.70" y1="232.80" x2="218.70" y2="232.80" stroke="#1a1a1a" stroke-width="1.1"/>
<text x="212.7" y="235.4" font-size="7.4" text-anchor="end" font-weight="normal" fill="#2a2a2a" stroke="#2a2a2a" stroke-width="0.12" textLength="6.8" lengthAdjust="spacingAndGlyphs">20</text>
<line x1="215.70" y1="216.80" x2="218.70" y2="216.80" stroke="#1a1a1a" stroke-width="1.1"/>
<text x="212.7" y="219.4" font-size="7.4" text-anchor="end" font-weight="normal" fill="#2a2a2a" stroke="#2a2a2a" stroke-width="0.12" textLength="6.8" lengthAdjust="spacingAndGlyphs">40</text>
<line x1="215.70" y1="200.80" x2="218.70" y2="200.80" stroke="#1a1a1a" stroke-width="1.1"/>
<text x="212.7" y="203.4" font-size="7.4" text-anchor="end" font-weight="normal" fill="#2a2a2a" stroke="#2a2a2a" stroke-width="0.12" textLength="6.8" lengthAdjust="spacingAndGlyphs">60</text>
<line x1="215.70" y1="184.80" x2="218.70" y2="184.80" stroke="#1a1a1a" stroke-width="1.1"/>
<text x="212.7" y="187.4" font-size="7.4" text-anchor="end" font-weight="normal" fill="#2a2a2a" stroke="#2a2a2a" stroke-width="0.12" textLength="6.8" lengthAdjust="spacingAndGlyphs">80</text>
<line x1="215.70" y1="168.80" x2="218.70" y2="168.80" stroke="#1a1a1a" stroke-width="1.1"/>
<text x="212.7" y="171.4" font-size="7.4" text-anchor="end" font-weight="normal" fill="#2a2a2a" stroke="#2a2a2a" stroke-width="0.12" textLength="10.2" lengthAdjust="spacingAndGlyphs">100</text>
<text x="197.5" y="204.8" font-size="8.8" text-anchor="middle" font-weight="normal" fill="#222" stroke="#222" stroke-width="0.12" transform="rotate(-90 197.5 204.8)" textLength="67.5" lengthAdjust="spacingAndGlyphs">Probability of Survival</text>
<line x1="218.70" y1="248.80" x2="321.00" y2="248.80" stroke="#1a1a1a" stroke-width="1.1"/>
<line x1="218.70" y1="248.80" x2="218.70" y2="251.30" stroke="#1a1a1a" stroke-width="1"/>
<text x="218.7" y="260.5" font-size="6.9" text-anchor="middle" font-weight="normal" fill="#333" stroke="#333" stroke-width="0.12">0</text>
<line x1="243.82" y1="248.80" x2="243.82" y2="251.30" stroke="#1a1a1a" stroke-width="1"/>
<text x="243.825" y="260.5" font-size="6.9" text-anchor="middle" font-weight="normal" fill="#333" stroke="#333" stroke-width="0.12">7</text>
<line x1="268.95" y1="248.80" x2="268.95" y2="251.30" stroke="#1a1a1a" stroke-width="1"/>
<text x="268.95" y="260.5" font-size="6.9" text-anchor="middle" font-weight="normal" fill="#333" stroke="#333" stroke-width="0.12">14</text>
<line x1="294.07" y1="248.80" x2="294.07" y2="251.30" stroke="#1a1a1a" stroke-width="1"/>
<text x="294.075" y="260.5" font-size="6.9" text-anchor="middle" font-weight="normal" fill="#333" stroke="#333" stroke-width="0.12">21</text>
<line x1="319.20" y1="248.80" x2="319.20" y2="251.30" stroke="#1a1a1a" stroke-width="1"/>
<text x="319.2" y="260.5" font-size="6.9" text-anchor="middle" font-weight="normal" fill="#333" stroke="#333" stroke-width="0.12">28</text>
<text x="272.0" y="272.6" font-size="9.2" text-anchor="middle" font-weight="normal" fill="#222" stroke="#222" stroke-width="0.12" textLength="34.6" lengthAdjust="spacingAndGlyphs">Time (days)</text>
<text x="243.6" y="208.8" font-size="7.6" text-anchor="middle" font-weight="normal" fill="#3c3c3c" stroke="#3c3c3c" stroke-width="0.12" textLength="10.5" lengthAdjust="spacingAndGlyphs">ICPi</text>
<text x="243.6" y="216.6" font-size="7.6" text-anchor="middle" font-weight="normal" fill="#3c3c3c" stroke="#3c3c3c" stroke-width="0.12" textLength="30.2" lengthAdjust="spacingAndGlyphs">Treatment</text>
<text x="295.5" y="208.8" font-size="7.6" text-anchor="middle" font-weight="normal" fill="#3c3c3c" stroke="#3c3c3c" stroke-width="0.12" textLength="23.4" lengthAdjust="spacingAndGlyphs">Apyrase</text>
<text x="295.5" y="216.6" font-size="7.6" text-anchor="middle" font-weight="normal" fill="#3c3c3c" stroke="#3c3c3c" stroke-width="0.12" textLength="30.2" lengthAdjust="spacingAndGlyphs">Treatment</text>
<polyline points="218.70,169.20 275.50,169.20 275.50,174.10 286.20,174.10 286.20,180.20 288.90,180.20 288.90,186.90 303.70,186.90 303.70,193.00 311.10,193.00 311.10,199.00 318.50,199.00" stroke="#d42a3c" stroke-width="1.2" fill="none"/>
<line x1="218.70" y1="169.20" x2="276.00" y2="169.20" stroke="#8e2a3c" stroke-width="1.5"/>
<polyline points="276.00,169.20 288.90,169.20 288.90,170.60 296.30,170.60 296.30,173.20 310.50,173.20 310.50,176.20 318.50,176.20" stroke="#3aae49" stroke-width="1.0" fill="none"/>
<line x1="327.40" y1="172.70" x2="334.00" y2="172.70" stroke="#d42a3c" stroke-width="1.2"/>
<line x1="327.40" y1="182.60" x2="334.00" y2="182.60" stroke="#3aae49" stroke-width="1.0"/>
<line x1="330.70" y1="171.20" x2="330.70" y2="174.20" stroke="#d42a3c" stroke-width="1"/>
<line x1="330.70" y1="181.10" x2="330.70" y2="184.10" stroke="#3aae49" stroke-width="1"/>
<text x="337.3" y="175.3" font-size="7.6" text-anchor="start" font-weight="normal" fill="#333" stroke="#333" stroke-width="0.12" textLength="11.5" lengthAdjust="spacingAndGlyphs">ICPi</text>
<text x="337" y="185.2" font-size="7.6" text-anchor="start" font-weight="normal" fill="#333" stroke="#333" stroke-width="0.12" textLength="24.7" lengthAdjust="spacingAndGlyphs">Apyrase</text>
<polyline points="364.60,168.90 370.50,168.90 370.50,185.50 364.60,185.50" stroke="#333" stroke-width="1" fill="none"/>
<text x="374" y="180.5" font-size="7" text-anchor="middle" font-weight="normal" fill="#444" stroke="#444" stroke-width="0.12" letter-spacing="0.3">*</text>
<text x="452.8" y="169.6" font-size="9.8" text-anchor="middle" font-weight="normal" fill="#222" stroke="#222" stroke-width="0.12" textLength="32" lengthAdjust="spacingAndGlyphs">CD39SP</text>
<line x1="428.30" y1="173.00" x2="428.30" y2="260.30" stroke="#1a1a1a" stroke-width="1.2"/>
<line x1="425.30" y1="260.30" x2="428.30" y2="260.30" stroke="#1a1a1a" stroke-width="1.1"/>
<text x="422.3" y="262.90000000000003" font-size="7.4" text-anchor="end" font-weight="normal" fill="#2a2a2a" stroke="#2a2a2a" stroke-width="0.12" textLength="3.4" lengthAdjust="spacingAndGlyphs">0</text>
<line x1="425.30" y1="246.20" x2="428.30" y2="246.20" stroke="#1a1a1a" stroke-width="1.1"/>
<text x="422.3" y="248.8" font-size="7.4" text-anchor="end" font-weight="normal" fill="#2a2a2a" stroke="#2a2a2a" stroke-width="0.12" textLength="3.4" lengthAdjust="spacingAndGlyphs">5</text>
<line x1="425.30" y1="232.10" x2="428.30" y2="232.10" stroke="#1a1a1a" stroke-width="1.1"/>
<text x="422.3" y="234.70000000000002" font-size="7.4" text-anchor="end" font-weight="normal" fill="#2a2a2a" stroke="#2a2a2a" stroke-width="0.12" textLength="6.8" lengthAdjust="spacingAndGlyphs">10</text>
<line x1="425.30" y1="218.00" x2="428.30" y2="218.00" stroke="#1a1a1a" stroke-width="1.1"/>
<text x="422.3" y="220.6" font-size="7.4" text-anchor="end" font-weight="normal" fill="#2a2a2a" stroke="#2a2a2a" stroke-width="0.12" textLength="6.8" lengthAdjust="spacingAndGlyphs">15</text>
<line x1="425.30" y1="203.90" x2="428.30" y2="203.90" stroke="#1a1a1a" stroke-width="1.1"/>
<text x="422.3" y="206.5" font-size="7.4" text-anchor="end" font-weight="normal" fill="#2a2a2a" stroke="#2a2a2a" stroke-width="0.12" textLength="6.8" lengthAdjust="spacingAndGlyphs">20</text>
<line x1="425.30" y1="189.80" x2="428.30" y2="189.80" stroke="#1a1a1a" stroke-width="1.1"/>
<text x="422.3" y="192.4" font-size="7.4" text-anchor="end" font-weight="normal" fill="#2a2a2a" stroke="#2a2a2a" stroke-width="0.12" textLength="6.8" lengthAdjust="spacingAndGlyphs">25</text>
<line x1="425.30" y1="175.70" x2="428.30" y2="175.70" stroke="#1a1a1a" stroke-width="1.1"/>
<text x="422.3" y="178.3" font-size="7.4" text-anchor="end" font-weight="normal" fill="#2a2a2a" stroke="#2a2a2a" stroke-width="0.12" textLength="6.8" lengthAdjust="spacingAndGlyphs">30</text>
<text x="408.8" y="217" font-size="8.5" text-anchor="middle" font-weight="normal" fill="#222" stroke="#222" stroke-width="0.12" transform="rotate(-90 408.8 217)" textLength="52.3" lengthAdjust="spacingAndGlyphs">% of CD4+ T cells</text>
<line x1="428.30" y1="260.30" x2="477.00" y2="260.30" stroke="#1a1a1a" stroke-width="1.1"/>
<line x1="453.20" y1="260.30" x2="453.20" y2="262.80" stroke="#1a1a1a" stroke-width="1"/>
<text x="453.2" y="272" font-size="7.2" text-anchor="middle" font-weight="normal" fill="#333" stroke="#333" stroke-width="0.12" textLength="22" lengthAdjust="spacingAndGlyphs">28 days</text>
<rect x="436.30" y="225.33" width="13.10" height="34.97" fill="#ea9189"/>
<rect x="456.70" y="240.00" width="13.10" height="20.30" fill="#a9d497"/>
<line x1="442.85" y1="225.33" x2="442.85" y2="220.26" stroke="#d42a3c" stroke-width="1"/>
<line x1="440.80" y1="220.26" x2="444.90" y2="220.26" stroke="#d42a3c" stroke-width="1"/>
<line x1="463.25" y1="240.00" x2="463.25" y2="236.89" stroke="#3aae49" stroke-width="1"/>
<line x1="461.20" y1="236.89" x2="465.30" y2="236.89" stroke="#3aae49" stroke-width="1"/>
<circle cx="442.60" cy="189.80" r="2.3" stroke="#d42a3c" stroke-width="1.3" fill="#fff"/>
<circle cx="442.60" cy="216.03" r="2.3" stroke="#d42a3c" stroke-width="1.3" fill="#fff"/>
<circle cx="442.60" cy="222.79" r="2.3" stroke="#d42a3c" stroke-width="1.3" fill="#fff"/>
<circle cx="437.90" cy="226.46" r="2.3" stroke="#d42a3c" stroke-width="1.3" fill="#fff"/>
<circle cx="442.60" cy="226.46" r="2.3" stroke="#d42a3c" stroke-width="1.3" fill="#fff"/>
<circle cx="447.30" cy="226.46" r="2.3" stroke="#d42a3c" stroke-width="1.3" fill="#fff"/>
<circle cx="437.90" cy="231.25" r="2.3" stroke="#d42a3c" stroke-width="1.3" fill="#fff"/>
<circle cx="442.60" cy="231.25" r="2.3" stroke="#d42a3c" stroke-width="1.3" fill="#fff"/>
<circle cx="447.30" cy="231.25" r="2.3" stroke="#d42a3c" stroke-width="1.3" fill="#fff"/>
<circle cx="438.40" cy="236.05" r="2.3" stroke="#d42a3c" stroke-width="1.3" fill="#fff"/>
<circle cx="446.80" cy="236.05" r="2.3" stroke="#d42a3c" stroke-width="1.3" fill="#fff"/>
<polygon points="463.30,223.38 460.50,228.56 466.10,228.56" stroke="#3aae49" stroke-width="1.3" fill="#fff" stroke-linejoin="round"/>
<polygon points="458.60,228.17 455.80,233.35 461.40,233.35" stroke="#3aae49" stroke-width="1.3" fill="#fff" stroke-linejoin="round"/>
<polygon points="468.00,228.17 465.20,233.35 470.80,233.35" stroke="#3aae49" stroke-width="1.3" fill="#fff" stroke-linejoin="round"/>
<polygon points="463.30,233.81 460.50,238.99 466.10,238.99" stroke="#3aae49" stroke-width="1.3" fill="#fff" stroke-linejoin="round"/>
<polygon points="458.60,238.61 455.80,243.79 461.40,243.79" stroke="#3aae49" stroke-width="1.3" fill="#fff" stroke-linejoin="round"/>
<polygon points="468.00,238.61 465.20,243.79 470.80,243.79" stroke="#3aae49" stroke-width="1.3" fill="#fff" stroke-linejoin="round"/>
<polygon points="463.30,240.30 460.50,245.48 466.10,245.48" stroke="#3aae49" stroke-width="1.3" fill="#fff" stroke-linejoin="round"/>
<polygon points="458.60,243.40 455.80,248.58 461.40,248.58" stroke="#3aae49" stroke-width="1.3" fill="#fff" stroke-linejoin="round"/>
<polygon points="463.30,243.40 460.50,248.58 466.10,248.58" stroke="#3aae49" stroke-width="1.3" fill="#fff" stroke-linejoin="round"/>
<polygon points="468.00,243.40 465.20,248.58 470.80,248.58" stroke="#3aae49" stroke-width="1.3" fill="#fff" stroke-linejoin="round"/>
<polygon points="458.60,247.35 455.80,252.53 461.40,252.53" stroke="#3aae49" stroke-width="1.3" fill="#fff" stroke-linejoin="round"/>
<polygon points="468.00,247.35 465.20,252.53 470.80,252.53" stroke="#3aae49" stroke-width="1.3" fill="#fff" stroke-linejoin="round"/>
<polyline points="443.00,184.30 443.00,180.00 463.40,180.00 463.40,222.70" stroke="#505050" stroke-width="0.9" fill="none"/>
<text x="453" y="180" font-size="7" text-anchor="middle" font-weight="normal" fill="#444" stroke="#444" stroke-width="0.12" letter-spacing="0.3">*</text>
<line x1="52.50" y1="314.00" x2="52.50" y2="403.50" stroke="#1a1a1a" stroke-width="1.2"/>
<line x1="49.50" y1="403.50" x2="52.50" y2="403.50" stroke="#1a1a1a" stroke-width="1.1"/>
<text x="46.5" y="406.1" font-size="7.4" text-anchor="end" font-weight="normal" fill="#2a2a2a" stroke="#2a2a2a" stroke-width="0.12" textLength="3.4" lengthAdjust="spacingAndGlyphs">0</text>
<line x1="49.50" y1="393.78" x2="52.50" y2="393.78" stroke="#1a1a1a" stroke-width="1.1"/>
<text x="46.5" y="396.38" font-size="7.4" text-anchor="end" font-weight="normal" fill="#2a2a2a" stroke="#2a2a2a" stroke-width="0.12" textLength="10.2" lengthAdjust="spacingAndGlyphs">500</text>
<line x1="49.50" y1="384.06" x2="52.50" y2="384.06" stroke="#1a1a1a" stroke-width="1.1"/>
<text x="46.5" y="386.66" font-size="7.4" text-anchor="end" font-weight="normal" fill="#2a2a2a" stroke="#2a2a2a" stroke-width="0.12" textLength="13.6" lengthAdjust="spacingAndGlyphs">1000</text>
<line x1="49.50" y1="374.34" x2="52.50" y2="374.34" stroke="#1a1a1a" stroke-width="1.1"/>
<text x="46.5" y="376.94" font-size="7.4" text-anchor="end" font-weight="normal" fill="#2a2a2a" stroke="#2a2a2a" stroke-width="0.12" textLength="13.6" lengthAdjust="spacingAndGlyphs">1500</text>
<line x1="49.50" y1="364.62" x2="52.50" y2="364.62" stroke="#1a1a1a" stroke-width="1.1"/>
<text x="46.5" y="367.22" font-size="7.4" text-anchor="end" font-weight="normal" fill="#2a2a2a" stroke="#2a2a2a" stroke-width="0.12" textLength="13.6" lengthAdjust="spacingAndGlyphs">2000</text>
<line x1="49.50" y1="354.90" x2="52.50" y2="354.90" stroke="#1a1a1a" stroke-width="1.1"/>
<text x="46.5" y="357.5" font-size="7.4" text-anchor="end" font-weight="normal" fill="#2a2a2a" stroke="#2a2a2a" stroke-width="0.12" textLength="13.6" lengthAdjust="spacingAndGlyphs">2500</text>
<line x1="49.50" y1="345.18" x2="52.50" y2="345.18" stroke="#1a1a1a" stroke-width="1.1"/>
<text x="46.5" y="347.78000000000003" font-size="7.4" text-anchor="end" font-weight="normal" fill="#2a2a2a" stroke="#2a2a2a" stroke-width="0.12" textLength="13.6" lengthAdjust="spacingAndGlyphs">3000</text>
<line x1="49.50" y1="335.46" x2="52.50" y2="335.46" stroke="#1a1a1a" stroke-width="1.1"/>
<text x="46.5" y="338.06" font-size="7.4" text-anchor="end" font-weight="normal" fill="#2a2a2a" stroke="#2a2a2a" stroke-width="0.12" textLength="13.6" lengthAdjust="spacingAndGlyphs">3500</text>
<line x1="49.50" y1="325.74" x2="52.50" y2="325.74" stroke="#1a1a1a" stroke-width="1.1"/>
<text x="46.5" y="328.34000000000003" font-size="7.4" text-anchor="end" font-weight="normal" fill="#2a2a2a" stroke="#2a2a2a" stroke-width="0.12" textLength="13.6" lengthAdjust="spacingAndGlyphs">4000</text>
<line x1="49.50" y1="316.02" x2="52.50" y2="316.02" stroke="#1a1a1a" stroke-width="1.1"/>
<text x="46.5" y="318.62" font-size="7.4" text-anchor="end" font-weight="normal" fill="#2a2a2a" stroke="#2a2a2a" stroke-width="0.12" textLength="13.6" lengthAdjust="spacingAndGlyphs">4500</text>
<text x="26.5" y="355.2" font-size="9.3" text-anchor="middle" font-weight="normal" fill="#222" stroke="#222" stroke-width="0.12" transform="rotate(-90 26.5 355.2)" textLength="76" lengthAdjust="spacingAndGlyphs">Adjusted MFI, Total Igs</text>
<line x1="52.50" y1="403.50" x2="163.00" y2="403.50" stroke="#1a1a1a" stroke-width="1.1"/>
<line x1="70.60" y1="403.50" x2="70.60" y2="406.00" stroke="#1a1a1a" stroke-width="1"/>
<line x1="88.70" y1="403.50" x2="88.70" y2="406.00" stroke="#1a1a1a" stroke-width="1"/>
<line x1="106.80" y1="403.50" x2="106.80" y2="406.00" stroke="#1a1a1a" stroke-width="1"/>
<line x1="124.90" y1="403.50" x2="124.90" y2="406.00" stroke="#1a1a1a" stroke-width="1"/>
<line x1="143.00" y1="403.50" x2="143.00" y2="406.00" stroke="#1a1a1a" stroke-width="1"/>
<line x1="161.10" y1="403.50" x2="161.10" y2="406.00" stroke="#1a1a1a" stroke-width="1"/>
<text x="52.5" y="416.3" font-size="6.9" text-anchor="middle" font-weight="normal" fill="#333" stroke="#333" stroke-width="0.12">0</text>
<text x="70.6" y="416.3" font-size="6.9" text-anchor="middle" font-weight="normal" fill="#333" stroke="#333" stroke-width="0.12">10</text>
<text x="88.7" y="416.3" font-size="6.9" text-anchor="middle" font-weight="normal" fill="#333" stroke="#333" stroke-width="0.12">20</text>
<text x="106.80000000000001" y="416.3" font-size="6.9" text-anchor="middle" font-weight="normal" fill="#333" stroke="#333" stroke-width="0.12">30</text>
<text x="124.9" y="416.3" font-size="6.9" text-anchor="middle" font-weight="normal" fill="#333" stroke="#333" stroke-width="0.12">40</text>
<text x="143.0" y="416.3" font-size="6.9" text-anchor="middle" font-weight="normal" fill="#333" stroke="#333" stroke-width="0.12">50</text>
<text x="161.10000000000002" y="416.3" font-size="6.9" text-anchor="middle" font-weight="normal" fill="#333" stroke="#333" stroke-width="0.12">60</text>
<text x="106.0" y="426.8" font-size="8.6" text-anchor="middle" font-weight="normal" fill="#222" stroke="#222" stroke-width="0.12" textLength="40.5" lengthAdjust="spacingAndGlyphs">% of CD39SP</text>
<text x="57.8" y="326.7" font-size="7.0" text-anchor="start" font-weight="normal" fill="#2a2a2a" stroke="#2a2a2a" stroke-width="0.12" textLength="4.6" lengthAdjust="spacingAndGlyphs">R</text>
<text x="62.3" y="323.2" font-size="4.5" text-anchor="start" font-weight="normal" fill="#2a2a2a" stroke="#2a2a2a" stroke-width="0.12">2</text>
<text x="65.2" y="326.7" font-size="7.0" text-anchor="start" font-weight="normal" fill="#2a2a2a" stroke="#2a2a2a" stroke-width="0.12" textLength="19" lengthAdjust="spacingAndGlyphs">= 0.62</text>
<text x="57.8" y="334.8" font-size="7.0" text-anchor="start" font-weight="normal" fill="#2a2a2a" stroke="#2a2a2a" stroke-width="0.12" textLength="27.4" lengthAdjust="spacingAndGlyphs">P &lt; .0001</text>
<line x1="73.09" y1="403.07" x2="139.61" y2="333.56" stroke="#1d4f91" stroke-width="1.1"/>
<line x1="70.32" y1="398.22" x2="140.07" y2="322.70" stroke="#1d4f91" stroke-width="1.0" stroke-dasharray="2.6,1.8"/>
<line x1="78.18" y1="402.84" x2="140.07" y2="345.80" stroke="#1d4f91" stroke-width="1.0" stroke-dasharray="2.6,1.8"/>
<circle cx="76.10" cy="391.29" r="1.45" stroke="#1c3f75" stroke-width="0.5" fill="#1c3f75"/>
<circle cx="86.95" cy="349.95" r="1.45" stroke="#1c3f75" stroke-width="0.5" fill="#1c3f75"/>
<circle cx="93.42" cy="344.64" r="1.45" stroke="#1c3f75" stroke-width="0.5" fill="#1c3f75"/>
<circle cx="90.42" cy="387.83" r="1.45" stroke="#1c3f75" stroke-width="0.5" fill="#1c3f75"/>
<circle cx="95.73" cy="387.37" r="1.45" stroke="#1c3f75" stroke-width="0.5" fill="#1c3f75"/>
<circle cx="98.96" cy="346.95" r="1.45" stroke="#1c3f75" stroke-width="0.5" fill="#1c3f75"/>
<circle cx="103.12" cy="342.33" r="1.45" stroke="#1c3f75" stroke-width="0.5" fill="#1c3f75"/>
<circle cx="103.58" cy="351.11" r="1.45" stroke="#1c3f75" stroke-width="0.5" fill="#1c3f75"/>
<circle cx="105.43" cy="345.80" r="1.45" stroke="#1c3f75" stroke-width="0.5" fill="#1c3f75"/>
<circle cx="109.58" cy="344.64" r="1.45" stroke="#1c3f75" stroke-width="0.5" fill="#1c3f75"/>
<circle cx="114.20" cy="344.18" r="1.45" stroke="#1c3f75" stroke-width="0.5" fill="#1c3f75"/>
<circle cx="110.51" cy="350.42" r="1.45" stroke="#1c3f75" stroke-width="0.5" fill="#1c3f75"/>
<circle cx="110.97" cy="355.73" r="1.45" stroke="#1c3f75" stroke-width="0.5" fill="#1c3f75"/>
<circle cx="112.82" cy="353.88" r="1.45" stroke="#1c3f75" stroke-width="0.5" fill="#1c3f75"/>
<circle cx="116.97" cy="352.73" r="1.45" stroke="#1c3f75" stroke-width="0.5" fill="#1c3f75"/>
<circle cx="101.27" cy="366.58" r="1.45" stroke="#1c3f75" stroke-width="0.5" fill="#1c3f75"/>
<circle cx="102.66" cy="366.58" r="1.45" stroke="#1c3f75" stroke-width="0.5" fill="#1c3f75"/>
<circle cx="106.58" cy="364.27" r="1.45" stroke="#1c3f75" stroke-width="0.5" fill="#1c3f75"/>
<circle cx="107.74" cy="373.51" r="1.45" stroke="#1c3f75" stroke-width="0.5" fill="#1c3f75"/>
<circle cx="109.58" cy="367.74" r="1.45" stroke="#1c3f75" stroke-width="0.5" fill="#1c3f75"/>
<circle cx="99.65" cy="375.13" r="1.45" stroke="#1c3f75" stroke-width="0.5" fill="#1c3f75"/>
<circle cx="102.66" cy="382.06" r="1.45" stroke="#1c3f75" stroke-width="0.5" fill="#1c3f75"/>
<circle cx="104.97" cy="382.06" r="1.45" stroke="#1c3f75" stroke-width="0.5" fill="#1c3f75"/>
<circle cx="104.27" cy="388.06" r="1.45" stroke="#1c3f75" stroke-width="0.5" fill="#1c3f75"/>
<circle cx="116.51" cy="383.44" r="1.45" stroke="#1c3f75" stroke-width="0.5" fill="#1c3f75"/>
<circle cx="118.82" cy="380.67" r="1.45" stroke="#1c3f75" stroke-width="0.5" fill="#1c3f75"/>
<circle cx="118.13" cy="360.81" r="1.45" stroke="#1c3f75" stroke-width="0.5" fill="#1c3f75"/>
<circle cx="125.06" cy="337.25" r="1.45" stroke="#1c3f75" stroke-width="0.5" fill="#1c3f75"/>
<circle cx="129.68" cy="328.48" r="1.45" stroke="#1c3f75" stroke-width="0.5" fill="#1c3f75"/>
<circle cx="139.61" cy="338.18" r="1.45" stroke="#1c3f75" stroke-width="0.5" fill="#1c3f75"/>
<circle cx="139.61" cy="345.10" r="1.45" stroke="#1c3f75" stroke-width="0.5" fill="#1c3f75"/>
<circle cx="93.88" cy="401.92" r="1.45" stroke="#1c3f75" stroke-width="0.5" fill="#1c3f75"/>
<circle cx="99.65" cy="400.07" r="1.45" stroke="#1c3f75" stroke-width="0.5" fill="#1c3f75"/>
<circle cx="100.81" cy="398.91" r="1.45" stroke="#1c3f75" stroke-width="0.5" fill="#1c3f75"/>
<circle cx="63.39" cy="402.70" r="1.45" stroke="#1c3f75" stroke-width="0.5" fill="#1c3f75"/>
<circle cx="65.24" cy="402.70" r="1.45" stroke="#1c3f75" stroke-width="0.5" fill="#1c3f75"/>
<circle cx="67.09" cy="402.70" r="1.45" stroke="#1c3f75" stroke-width="0.5" fill="#1c3f75"/>
<circle cx="71.25" cy="402.70" r="1.45" stroke="#1c3f75" stroke-width="0.5" fill="#1c3f75"/>
<circle cx="73.09" cy="402.70" r="1.45" stroke="#1c3f75" stroke-width="0.5" fill="#1c3f75"/>
<circle cx="74.94" cy="402.70" r="1.45" stroke="#1c3f75" stroke-width="0.5" fill="#1c3f75"/>
<circle cx="77.25" cy="402.70" r="1.45" stroke="#1c3f75" stroke-width="0.5" fill="#1c3f75"/>
<circle cx="79.10" cy="402.70" r="1.45" stroke="#1c3f75" stroke-width="0.5" fill="#1c3f75"/>
<circle cx="81.41" cy="402.70" r="1.45" stroke="#1c3f75" stroke-width="0.5" fill="#1c3f75"/>
<circle cx="83.72" cy="402.70" r="1.45" stroke="#1c3f75" stroke-width="0.5" fill="#1c3f75"/>
<circle cx="88.80" cy="402.70" r="1.45" stroke="#1c3f75" stroke-width="0.5" fill="#1c3f75"/>
<line x1="219.60" y1="313.00" x2="219.60" y2="403.40" stroke="#1a1a1a" stroke-width="1.2"/>
<line x1="216.60" y1="403.40" x2="219.60" y2="403.40" stroke="#1a1a1a" stroke-width="1.1"/>
<text x="213.6" y="406.0" font-size="7.4" text-anchor="end" font-weight="normal" fill="#2a2a2a" stroke="#2a2a2a" stroke-width="0.12" textLength="3.4" lengthAdjust="spacingAndGlyphs">0</text>
<line x1="216.60" y1="386.28" x2="219.60" y2="386.28" stroke="#1a1a1a" stroke-width="1.1"/>
<text x="213.6" y="388.88" font-size="7.4" text-anchor="end" font-weight="normal" fill="#2a2a2a" stroke="#2a2a2a" stroke-width="0.12" textLength="10.2" lengthAdjust="spacingAndGlyphs">500</text>
<line x1="216.60" y1="369.16" x2="219.60" y2="369.16" stroke="#1a1a1a" stroke-width="1.1"/>
<text x="213.6" y="371.76" font-size="7.4" text-anchor="end" font-weight="normal" fill="#2a2a2a" stroke="#2a2a2a" stroke-width="0.12" textLength="13.6" lengthAdjust="spacingAndGlyphs">1000</text>
<line x1="216.60" y1="352.04" x2="219.60" y2="352.04" stroke="#1a1a1a" stroke-width="1.1"/>
<text x="213.6" y="354.64" font-size="7.4" text-anchor="end" font-weight="normal" fill="#2a2a2a" stroke="#2a2a2a" stroke-width="0.12" textLength="13.6" lengthAdjust="spacingAndGlyphs">1500</text>
<line x1="216.60" y1="334.92" x2="219.60" y2="334.92" stroke="#1a1a1a" stroke-width="1.1"/>
<text x="213.6" y="337.52" font-size="7.4" text-anchor="end" font-weight="normal" fill="#2a2a2a" stroke="#2a2a2a" stroke-width="0.12" textLength="13.6" lengthAdjust="spacingAndGlyphs">2000</text>
<line x1="216.60" y1="317.80" x2="219.60" y2="317.80" stroke="#1a1a1a" stroke-width="1.1"/>
<text x="213.6" y="320.4" font-size="7.4" text-anchor="end" font-weight="normal" fill="#2a2a2a" stroke="#2a2a2a" stroke-width="0.12" textLength="13.6" lengthAdjust="spacingAndGlyphs">2500</text>
<text x="193.5" y="357.3" font-size="8.5" text-anchor="middle" font-weight="normal" fill="#222" stroke="#222" stroke-width="0.12" transform="rotate(-90 193.5 357.3)" textLength="72.6" lengthAdjust="spacingAndGlyphs">Adjusted MFI, Total Igs</text>
<line x1="219.60" y1="403.40" x2="314.20" y2="403.40" stroke="#1a1a1a" stroke-width="1.1"/>
<line x1="228.70" y1="403.40" x2="228.70" y2="405.90" stroke="#1a1a1a" stroke-width="1"/>
<text x="231.0" y="413.7" font-size="7.2" text-anchor="end" font-weight="normal" fill="#2a2a2a" stroke="#2a2a2a" stroke-width="0.12" transform="rotate(-45 231.0 413.7)" textLength="17.5" lengthAdjust="spacingAndGlyphs">1:100</text>
<line x1="248.10" y1="403.40" x2="248.10" y2="405.90" stroke="#1a1a1a" stroke-width="1"/>
<text x="250.4" y="413.7" font-size="7.2" text-anchor="end" font-weight="normal" fill="#2a2a2a" stroke="#2a2a2a" stroke-width="0.12" transform="rotate(-45 250.4 413.7)" textLength="21.0" lengthAdjust="spacingAndGlyphs">1:1000</text>
<line x1="266.60" y1="403.40" x2="266.60" y2="405.90" stroke="#1a1a1a" stroke-width="1"/>
<text x="268.90000000000003" y="413.7" font-size="7.2" text-anchor="end" font-weight="normal" fill="#2a2a2a" stroke="#2a2a2a" stroke-width="0.12" transform="rotate(-45 268.90000000000003 413.7)" textLength="21.0" lengthAdjust="spacingAndGlyphs">1:2000</text>
<line x1="285.70" y1="403.40" x2="285.70" y2="405.90" stroke="#1a1a1a" stroke-width="1"/>
<text x="288.0" y="413.7" font-size="7.2" text-anchor="end" font-weight="normal" fill="#2a2a2a" stroke="#2a2a2a" stroke-width="0.12" transform="rotate(-45 288.0 413.7)" textLength="21.0" lengthAdjust="spacingAndGlyphs">1:4000</text>
<line x1="304.80" y1="403.40" x2="304.80" y2="405.90" stroke="#1a1a1a" stroke-width="1"/>
<text x="307.1" y="413.7" font-size="7.2" text-anchor="end" font-weight="normal" fill="#2a2a2a" stroke="#2a2a2a" stroke-width="0.12" transform="rotate(-45 307.1 413.7)" textLength="21.0" lengthAdjust="spacingAndGlyphs">1:8000</text>
<text x="266.6" y="439.6" font-size="9.6" text-anchor="middle" font-weight="normal" fill="#222" stroke="#222" stroke-width="0.12" textLength="43.3" lengthAdjust="spacingAndGlyphs">Serial dilution</text>
<polyline points="228.70,402.72 248.10,402.72 266.60,402.72 285.70,402.89 304.80,403.06" stroke="#1d4f91" stroke-width="1.2" fill="none"/>
<circle cx="228.70" cy="402.72" r="1.6" stroke="#1d4f91" stroke-width="0.5" fill="#1d4f91"/>
<circle cx="248.10" cy="402.72" r="1.6" stroke="#1d4f91" stroke-width="0.5" fill="#1d4f91"/>
<circle cx="266.60" cy="402.72" r="1.6" stroke="#1d4f91" stroke-width="0.5" fill="#1d4f91"/>
<circle cx="285.70" cy="402.89" r="1.6" stroke="#1d4f91" stroke-width="0.5" fill="#1d4f91"/>
<circle cx="304.80" cy="403.06" r="1.6" stroke="#1d4f91" stroke-width="0.5" fill="#1d4f91"/>
<polyline points="228.70,355.46 248.10,377.72 266.60,397.24 285.70,398.95 304.80,401.35" stroke="#3aae49" stroke-width="1.2" fill="none"/>
<line x1="228.70" y1="362.31" x2="228.70" y2="348.62" stroke="#3aae49" stroke-width="0.9"/>
<line x1="226.70" y1="362.31" x2="230.70" y2="362.31" stroke="#3aae49" stroke-width="0.9"/>
<line x1="226.70" y1="348.62" x2="230.70" y2="348.62" stroke="#3aae49" stroke-width="0.9"/>
<polygon points="228.70,353.48 226.90,356.81 230.50,356.81" stroke="#3aae49" stroke-width="0.5" fill="#3aae49" stroke-linejoin="round"/>
<line x1="248.10" y1="382.17" x2="248.10" y2="373.27" stroke="#3aae49" stroke-width="0.9"/>
<line x1="246.10" y1="382.17" x2="250.10" y2="382.17" stroke="#3aae49" stroke-width="0.9"/>
<line x1="246.10" y1="373.27" x2="250.10" y2="373.27" stroke="#3aae49" stroke-width="0.9"/>
<polygon points="248.10,375.74 246.30,379.07 249.90,379.07" stroke="#3aae49" stroke-width="0.5" fill="#3aae49" stroke-linejoin="round"/>
<polygon points="266.60,395.26 264.80,398.59 268.40,398.59" stroke="#3aae49" stroke-width="0.5" fill="#3aae49" stroke-linejoin="round"/>
<polygon points="285.70,396.97 283.90,400.30 287.50,400.30" stroke="#3aae49" stroke-width="0.5" fill="#3aae49" stroke-linejoin="round"/>
<polygon points="304.80,399.37 303.00,402.70 306.60,402.70" stroke="#3aae49" stroke-width="0.5" fill="#3aae49" stroke-linejoin="round"/>
<polyline points="228.70,330.47 248.10,365.74 266.60,391.76 285.70,395.52 304.80,399.63" stroke="#d42a3c" stroke-width="1.2" fill="none"/>
<line x1="228.70" y1="332.52" x2="228.70" y2="328.41" stroke="#d42a3c" stroke-width="0.9"/>
<line x1="226.70" y1="332.52" x2="230.70" y2="332.52" stroke="#d42a3c" stroke-width="0.9"/>
<line x1="226.70" y1="328.41" x2="230.70" y2="328.41" stroke="#d42a3c" stroke-width="0.9"/>
<circle cx="228.70" cy="330.47" r="1.6" stroke="#d42a3c" stroke-width="0.5" fill="#d42a3c"/>
<line x1="248.10" y1="368.48" x2="248.10" y2="363.00" stroke="#d42a3c" stroke-width="0.9"/>
<line x1="246.10" y1="368.48" x2="250.10" y2="368.48" stroke="#d42a3c" stroke-width="0.9"/>
<line x1="246.10" y1="363.00" x2="250.10" y2="363.00" stroke="#d42a3c" stroke-width="0.9"/>
<circle cx="248.10" cy="365.74" r="1.6" stroke="#d42a3c" stroke-width="0.5" fill="#d42a3c"/>
<circle cx="266.60" cy="391.76" r="1.6" stroke="#d42a3c" stroke-width="0.5" fill="#d42a3c"/>
<circle cx="285.70" cy="395.52" r="1.6" stroke="#d42a3c" stroke-width="0.5" fill="#d42a3c"/>
<circle cx="304.80" cy="399.63" r="1.6" stroke="#d42a3c" stroke-width="0.5" fill="#d42a3c"/>
<text x="238.7" y="324.0" font-size="7" text-anchor="middle" font-weight="normal" fill="#444" stroke="#444" stroke-width="0.12" letter-spacing="0.3">**</text>
<line x1="324.20" y1="322.10" x2="331.70" y2="322.10" stroke="#d42a3c" stroke-width="1.3"/>
<circle cx="328.00" cy="322.10" r="1.6" stroke="#d42a3c" stroke-width="0.5" fill="#d42a3c"/>
<text x="334" y="324.6" font-size="7.2" text-anchor="start" font-weight="normal" fill="#2a2a2a" stroke="#2a2a2a" stroke-width="0.12" textLength="12" lengthAdjust="spacingAndGlyphs">ICPi</text>
<line x1="324.20" y1="331.00" x2="331.70" y2="331.00" stroke="#3aae49" stroke-width="1.3"/>
<polygon points="328.00,329.02 326.20,332.35 329.80,332.35" stroke="#3aae49" stroke-width="0.5" fill="#3aae49" stroke-linejoin="round"/>
<text x="334" y="333.5" font-size="7.2" text-anchor="start" font-weight="normal" fill="#2a2a2a" stroke="#2a2a2a" stroke-width="0.12" textLength="24.3" lengthAdjust="spacingAndGlyphs">Apyrase</text>
<line x1="324.20" y1="339.80" x2="331.70" y2="339.80" stroke="#1d4f91" stroke-width="1.3"/>
<circle cx="328.00" cy="339.80" r="1.6" stroke="#1d4f91" stroke-width="0.5" fill="#1d4f91"/>
<text x="334" y="342.3" font-size="7.2" text-anchor="start" font-weight="normal" fill="#2a2a2a" stroke="#2a2a2a" stroke-width="0.12" textLength="21.9" lengthAdjust="spacingAndGlyphs">B6 sera</text>
<text x="453.2" y="307.8" font-size="9.4" text-anchor="middle" font-weight="normal" fill="#222" stroke="#222" stroke-width="0.12" textLength="43" lengthAdjust="spacingAndGlyphs">Hematocrit</text>
<line x1="428.50" y1="317.50" x2="428.50" y2="403.00" stroke="#1a1a1a" stroke-width="1.2"/>
<line x1="425.50" y1="403.00" x2="428.50" y2="403.00" stroke="#1a1a1a" stroke-width="1.1"/>
<text x="422.5" y="405.6" font-size="7.4" text-anchor="end" font-weight="normal" fill="#2a2a2a" stroke="#2a2a2a" stroke-width="0.12" textLength="3.4" lengthAdjust="spacingAndGlyphs">0</text>
<line x1="425.50" y1="382.20" x2="428.50" y2="382.20" stroke="#1a1a1a" stroke-width="1.1"/>
<text x="422.5" y="384.8" font-size="7.4" text-anchor="end" font-weight="normal" fill="#2a2a2a" stroke="#2a2a2a" stroke-width="0.12" textLength="6.8" lengthAdjust="spacingAndGlyphs">10</text>
<line x1="425.50" y1="361.40" x2="428.50" y2="361.40" stroke="#1a1a1a" stroke-width="1.1"/>
<text x="422.5" y="364.0" font-size="7.4" text-anchor="end" font-weight="normal" fill="#2a2a2a" stroke="#2a2a2a" stroke-width="0.12" textLength="6.8" lengthAdjust="spacingAndGlyphs">20</text>
<line x1="425.50" y1="340.60" x2="428.50" y2="340.60" stroke="#1a1a1a" stroke-width="1.1"/>
<text x="422.5" y="343.20000000000005" font-size="7.4" text-anchor="end" font-weight="normal" fill="#2a2a2a" stroke="#2a2a2a" stroke-width="0.12" textLength="6.8" lengthAdjust="spacingAndGlyphs">30</text>
<line x1="425.50" y1="319.80" x2="428.50" y2="319.80" stroke="#1a1a1a" stroke-width="1.1"/>
<text x="422.5" y="322.40000000000003" font-size="7.4" text-anchor="end" font-weight="normal" fill="#2a2a2a" stroke="#2a2a2a" stroke-width="0.12" textLength="6.8" lengthAdjust="spacingAndGlyphs">40</text>
<text x="410.3" y="359.8" font-size="8.8" text-anchor="middle" font-weight="normal" fill="#222" stroke="#222" stroke-width="0.12" transform="rotate(-90 410.3 359.8)" textLength="23.5" lengthAdjust="spacingAndGlyphs">Percent</text>
<line x1="428.50" y1="403.00" x2="476.00" y2="403.00" stroke="#1a1a1a" stroke-width="1.1"/>
<rect x="436.10" y="374.92" width="12.40" height="28.08" fill="#ea9189"/>
<rect x="457.50" y="365.56" width="12.50" height="37.44" fill="#a9d497"/>
<line x1="442.30" y1="374.92" x2="442.30" y2="370.76" stroke="#d42a3c" stroke-width="1"/>
<line x1="440.00" y1="370.76" x2="444.60" y2="370.76" stroke="#d42a3c" stroke-width="1"/>
<line x1="463.75" y1="365.56" x2="463.75" y2="362.44" stroke="#3aae49" stroke-width="1"/>
<line x1="461.50" y1="362.44" x2="466.00" y2="362.44" stroke="#3aae49" stroke-width="1"/>
<circle cx="442.30" cy="351.00" r="2.2" stroke="#d42a3c" stroke-width="1.3" fill="#fff"/>
<circle cx="438.30" cy="359.32" r="2.2" stroke="#d42a3c" stroke-width="1.3" fill="#fff"/>
<circle cx="446.30" cy="361.40" r="2.2" stroke="#d42a3c" stroke-width="1.3" fill="#fff"/>
<circle cx="442.30" cy="363.48" r="2.2" stroke="#d42a3c" stroke-width="1.3" fill="#fff"/>
<circle cx="438.30" cy="371.80" r="2.2" stroke="#d42a3c" stroke-width="1.3" fill="#fff"/>
<circle cx="446.30" cy="373.88" r="2.2" stroke="#d42a3c" stroke-width="1.3" fill="#fff"/>
<circle cx="442.30" cy="378.04" r="2.2" stroke="#d42a3c" stroke-width="1.3" fill="#fff"/>
<circle cx="438.30" cy="382.20" r="2.2" stroke="#d42a3c" stroke-width="1.3" fill="#fff"/>
<circle cx="446.30" cy="382.20" r="2.2" stroke="#d42a3c" stroke-width="1.3" fill="#fff"/>
<circle cx="440.30" cy="386.36" r="2.2" stroke="#d42a3c" stroke-width="1.3" fill="#fff"/>
<circle cx="444.30" cy="390.52" r="2.2" stroke="#d42a3c" stroke-width="1.3" fill="#fff"/>
<circle cx="442.30" cy="393.64" r="2.2" stroke="#d42a3c" stroke-width="1.3" fill="#fff"/>
<circle cx="442.30" cy="367.64" r="2.2" stroke="#d42a3c" stroke-width="1.3" fill="#fff"/>
<circle cx="441.30" cy="372.84" r="2.2" stroke="#d42a3c" stroke-width="1.3" fill="#fff"/>
<polygon points="459.75,329.75 457.45,334.00 462.05,334.00" stroke="#3aae49" stroke-width="1.3" fill="#fff" stroke-linejoin="round"/>
<polygon points="467.75,329.75 465.45,334.00 470.05,334.00" stroke="#3aae49" stroke-width="1.3" fill="#fff" stroke-linejoin="round"/>
<polygon points="463.75,331.83 461.45,336.09 466.05,336.09" stroke="#3aae49" stroke-width="1.3" fill="#fff" stroke-linejoin="round"/>
<polygon points="458.75,333.91 456.45,338.17 461.05,338.17" stroke="#3aae49" stroke-width="1.3" fill="#fff" stroke-linejoin="round"/>
<polygon points="468.75,333.91 466.45,338.17 471.05,338.17" stroke="#3aae49" stroke-width="1.3" fill="#fff" stroke-linejoin="round"/>
<polygon points="461.75,335.99 459.45,340.25 464.05,340.25" stroke="#3aae49" stroke-width="1.3" fill="#fff" stroke-linejoin="round"/>
<polygon points="465.75,335.99 463.45,340.25 468.05,340.25" stroke="#3aae49" stroke-width="1.3" fill="#fff" stroke-linejoin="round"/>
<polygon points="459.75,338.07 457.45,342.33 462.05,342.33" stroke="#3aae49" stroke-width="1.3" fill="#fff" stroke-linejoin="round"/>
<polygon points="467.75,338.07 465.45,342.33 470.05,342.33" stroke="#3aae49" stroke-width="1.3" fill="#fff" stroke-linejoin="round"/>
<polygon points="463.75,351.59 461.45,355.85 466.05,355.85" stroke="#3aae49" stroke-width="1.3" fill="#fff" stroke-linejoin="round"/>
<polygon points="465.75,352.63 463.45,356.88 468.05,356.88" stroke="#3aae49" stroke-width="1.3" fill="#fff" stroke-linejoin="round"/>
<polygon points="459.75,356.79 457.45,361.05 462.05,361.05" stroke="#3aae49" stroke-width="1.3" fill="#fff" stroke-linejoin="round"/>
<polygon points="467.75,358.87 465.45,363.12 470.05,363.12" stroke="#3aae49" stroke-width="1.3" fill="#fff" stroke-linejoin="round"/>
<polygon points="463.75,360.95 461.45,365.21 466.05,365.21" stroke="#3aae49" stroke-width="1.3" fill="#fff" stroke-linejoin="round"/>
<polygon points="459.75,363.03 457.45,367.29 462.05,367.29" stroke="#3aae49" stroke-width="1.3" fill="#fff" stroke-linejoin="round"/>
<polygon points="467.75,363.03 465.45,367.29 470.05,367.29" stroke="#3aae49" stroke-width="1.3" fill="#fff" stroke-linejoin="round"/>
<polygon points="463.75,365.11 461.45,369.37 466.05,369.37" stroke="#3aae49" stroke-width="1.3" fill="#fff" stroke-linejoin="round"/>
<polygon points="460.75,367.19 458.45,371.45 463.05,371.45" stroke="#3aae49" stroke-width="1.3" fill="#fff" stroke-linejoin="round"/>
<polygon points="466.75,369.27 464.45,373.53 469.05,373.53" stroke="#3aae49" stroke-width="1.3" fill="#fff" stroke-linejoin="round"/>
<polygon points="459.75,373.43 457.45,377.69 462.05,377.69" stroke="#3aae49" stroke-width="1.3" fill="#fff" stroke-linejoin="round"/>
<polygon points="467.75,375.51 465.45,379.77 470.05,379.77" stroke="#3aae49" stroke-width="1.3" fill="#fff" stroke-linejoin="round"/>
<polygon points="463.75,377.59 461.45,381.85 466.05,381.85" stroke="#3aae49" stroke-width="1.3" fill="#fff" stroke-linejoin="round"/>
<polygon points="459.75,379.67 457.45,383.93 462.05,383.93" stroke="#3aae49" stroke-width="1.3" fill="#fff" stroke-linejoin="round"/>
<polygon points="466.75,381.75 464.45,386.00 469.05,386.00" stroke="#3aae49" stroke-width="1.3" fill="#fff" stroke-linejoin="round"/>
<polygon points="461.75,383.83 459.45,388.09 464.05,388.09" stroke="#3aae49" stroke-width="1.3" fill="#fff" stroke-linejoin="round"/>
<polygon points="465.75,385.91 463.45,390.17 468.05,390.17" stroke="#3aae49" stroke-width="1.3" fill="#fff" stroke-linejoin="round"/>
<polygon points="459.75,387.99 457.45,392.25 462.05,392.25" stroke="#3aae49" stroke-width="1.3" fill="#fff" stroke-linejoin="round"/>
<polygon points="466.75,389.03 464.45,393.29 469.05,393.29" stroke="#3aae49" stroke-width="1.3" fill="#fff" stroke-linejoin="round"/>
<polygon points="463.75,390.07 461.45,394.33 466.05,394.33" stroke="#3aae49" stroke-width="1.3" fill="#fff" stroke-linejoin="round"/>
<polyline points="442.00,345.10 442.00,321.20 463.90,321.20 463.90,327.80" stroke="#505050" stroke-width="0.9" fill="none"/>
<text x="452.8" y="321.0" font-size="7" text-anchor="middle" font-weight="normal" fill="#444" stroke="#444" stroke-width="0.12" letter-spacing="0.3">*</text>
</svg>
</body></html>
